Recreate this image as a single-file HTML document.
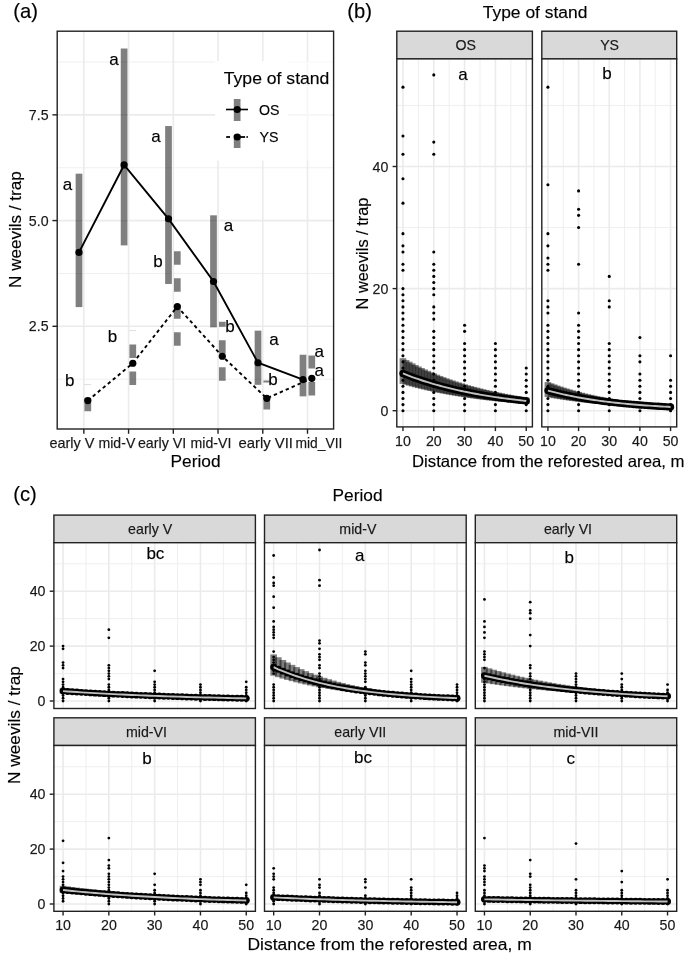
<!DOCTYPE html>
<html><head><meta charset="utf-8"><title>Figure</title>
<style>html,body{margin:0;padding:0;background:#fff}svg{display:block}text{font-family:'Liberation Sans', Arial, Helvetica, sans-serif;stroke:#000;stroke-width:0.25px;stroke-opacity:0.6}</style>
</head><body>
<svg width="685" height="963" viewBox="0 0 685 963">
<rect width="685" height="963" fill="#fff"/>
<rect x="57.2" y="31.2" width="276.40000000000003" height="397.8" fill="#fff"/>
<line x1="57.20" y1="379.16" x2="333.60" y2="379.16" stroke="#ebebeb" stroke-width="0.8"/>
<line x1="57.20" y1="273.44" x2="333.60" y2="273.44" stroke="#ebebeb" stroke-width="0.8"/>
<line x1="57.20" y1="167.71" x2="333.60" y2="167.71" stroke="#ebebeb" stroke-width="0.8"/>
<line x1="57.20" y1="61.99" x2="333.60" y2="61.99" stroke="#ebebeb" stroke-width="0.8"/>
<line x1="57.20" y1="326.30" x2="333.60" y2="326.30" stroke="#ebebeb" stroke-width="1.6"/>
<line x1="57.20" y1="220.58" x2="333.60" y2="220.58" stroke="#ebebeb" stroke-width="1.6"/>
<line x1="57.20" y1="114.85" x2="333.60" y2="114.85" stroke="#ebebeb" stroke-width="1.6"/>
<line x1="83.85" y1="31.20" x2="83.85" y2="429.00" stroke="#ebebeb" stroke-width="1.6"/>
<line x1="128.58" y1="31.20" x2="128.58" y2="429.00" stroke="#ebebeb" stroke-width="1.6"/>
<line x1="173.31" y1="31.20" x2="173.31" y2="429.00" stroke="#ebebeb" stroke-width="1.6"/>
<line x1="218.04" y1="31.20" x2="218.04" y2="429.00" stroke="#ebebeb" stroke-width="1.6"/>
<line x1="262.77" y1="31.20" x2="262.77" y2="429.00" stroke="#ebebeb" stroke-width="1.6"/>
<line x1="307.50" y1="31.20" x2="307.50" y2="429.00" stroke="#ebebeb" stroke-width="1.6"/>
<rect x="215" y="61" width="73" height="99.5" fill="#fff"/>
<rect x="288" y="61" width="44" height="99.5" fill="#fff" fill-opacity="0.55"/>
<rect x="75.65" y="173.6905" width="6.7" height="133.399" fill="#000" fill-opacity="0.5"/>
<rect x="120.75" y="48.5161" width="6.7" height="196.8889" fill="#000" fill-opacity="0.5"/>
<rect x="165.15" y="126.048" width="6.7" height="157.97250000000003" fill="#000" fill-opacity="0.5"/>
<rect x="210.15" y="215.315" width="6.7" height="112.0351" fill="#000" fill-opacity="0.5"/>
<rect x="254.65" y="330.66" width="6.7" height="54.16199999999998" fill="#000" fill-opacity="0.5"/>
<rect x="299.65" y="354.732" width="6.7" height="41.624499999999955" fill="#000" fill-opacity="0.5"/>
<line x1="87.8" y1="411.15075" x2="87.8" y2="384.11990000000003" stroke="#000" stroke-opacity="0.5" stroke-width="6.7" stroke-dasharray="13.5 13.5"/>
<line x1="132.8" y1="385.07275" x2="132.8" y2="330.66" stroke="#000" stroke-opacity="0.5" stroke-width="6.7" stroke-dasharray="13.5 13.5"/>
<line x1="177.3" y1="345.705" x2="177.3" y2="250.42" stroke="#000" stroke-opacity="0.5" stroke-width="6.7" stroke-dasharray="13.5 13.5"/>
<line x1="222.3" y1="380.81" x2="222.3" y2="321.633" stroke="#000" stroke-opacity="0.5" stroke-width="6.7" stroke-dasharray="13.5 13.5"/>
<line x1="266.8" y1="409.3955" x2="266.8" y2="380.55925" stroke="#000" stroke-opacity="0.5" stroke-width="6.7" stroke-dasharray="13.5 13.5"/>
<line x1="311.8" y1="395.60425" x2="311.8" y2="355.48425" stroke="#000" stroke-opacity="0.5" stroke-width="6.7" stroke-dasharray="13.5 13.5"/>
<polyline fill="none" stroke="#000" stroke-width="1.9" points="79,252.426 124.1,164.9644 168.5,218.8255 213.5,281.513 258,362.756 303,379.6064"/>
<polyline fill="none" stroke="#000" stroke-width="1.9" stroke-dasharray="3.4 3.1" points="87.8,400.5691 132.8,363.2575 177.3,306.588 222.3,356.2365 266.8,398.3625 311.8,378.3025"/>
<circle cx="79" cy="252.426" r="3.6" fill="#000"/>
<circle cx="124.1" cy="164.9644" r="3.6" fill="#000"/>
<circle cx="168.5" cy="218.8255" r="3.6" fill="#000"/>
<circle cx="213.5" cy="281.513" r="3.6" fill="#000"/>
<circle cx="258" cy="362.756" r="3.6" fill="#000"/>
<circle cx="303" cy="379.6064" r="3.6" fill="#000"/>
<circle cx="87.8" cy="400.5691" r="3.6" fill="#000"/>
<circle cx="132.8" cy="363.2575" r="3.6" fill="#000"/>
<circle cx="177.3" cy="306.588" r="3.6" fill="#000"/>
<circle cx="222.3" cy="356.2365" r="3.6" fill="#000"/>
<circle cx="266.8" cy="398.3625" r="3.6" fill="#000"/>
<circle cx="311.8" cy="378.3025" r="3.6" fill="#000"/>
<text x="113.9" y="64.5" font-size="17" text-anchor="middle" fill="#000">a</text>
<text x="156.0" y="142.4" font-size="17" text-anchor="middle" fill="#000">a</text>
<text x="67.5" y="189.8" font-size="17" text-anchor="middle" fill="#000">a</text>
<text x="228.5" y="231.4" font-size="17" text-anchor="middle" fill="#000">a</text>
<text x="158.0" y="266.8" font-size="17" text-anchor="middle" fill="#000">b</text>
<text x="230.0" y="331.9" font-size="17" text-anchor="middle" fill="#000">b</text>
<text x="112.5" y="342.2" font-size="17" text-anchor="middle" fill="#000">b</text>
<text x="274.0" y="345.3" font-size="17" text-anchor="middle" fill="#000">a</text>
<text x="69.8" y="385.9" font-size="17" text-anchor="middle" fill="#000">b</text>
<text x="273.0" y="385.4" font-size="17" text-anchor="middle" fill="#000">b</text>
<text x="319.2" y="356.8" font-size="17" text-anchor="middle" fill="#000">a</text>
<text x="319.2" y="376.4" font-size="17" text-anchor="middle" fill="#000">a</text>
<rect x="57.2" y="31.2" width="276.40000000000003" height="397.8" fill="none" stroke="#222222" stroke-width="1.4"/>
<line x1="83.85" y1="429.00" x2="83.85" y2="433.80" stroke="#222222" stroke-width="1.4"/>
<line x1="128.58" y1="429.00" x2="128.58" y2="433.80" stroke="#222222" stroke-width="1.4"/>
<line x1="173.31" y1="429.00" x2="173.31" y2="433.80" stroke="#222222" stroke-width="1.4"/>
<line x1="218.04" y1="429.00" x2="218.04" y2="433.80" stroke="#222222" stroke-width="1.4"/>
<line x1="262.77" y1="429.00" x2="262.77" y2="433.80" stroke="#222222" stroke-width="1.4"/>
<line x1="307.50" y1="429.00" x2="307.50" y2="433.80" stroke="#222222" stroke-width="1.4"/>
<line x1="52.40" y1="326.30" x2="57.20" y2="326.30" stroke="#222222" stroke-width="1.4"/>
<text x="48.6" y="331.3" font-size="14.2" text-anchor="end" fill="#1a1a1a">2.5</text>
<line x1="52.40" y1="220.58" x2="57.20" y2="220.58" stroke="#222222" stroke-width="1.4"/>
<text x="48.6" y="225.6" font-size="14.2" text-anchor="end" fill="#1a1a1a">5.0</text>
<line x1="52.40" y1="114.85" x2="57.20" y2="114.85" stroke="#222222" stroke-width="1.4"/>
<text x="48.6" y="119.9" font-size="14.2" text-anchor="end" fill="#1a1a1a">7.5</text>
<text x="49.4" y="448.0" font-size="14.2" text-anchor="start" fill="#1a1a1a" textLength="45.0" lengthAdjust="spacingAndGlyphs">early V</text>
<text x="98.5" y="448.0" font-size="14.2" text-anchor="start" fill="#1a1a1a" textLength="36.8" lengthAdjust="spacingAndGlyphs">mid-V</text>
<text x="137.9" y="448.0" font-size="14.2" text-anchor="start" fill="#1a1a1a" textLength="48.3" lengthAdjust="spacingAndGlyphs">early VI</text>
<text x="190.6" y="448.0" font-size="14.2" text-anchor="start" fill="#1a1a1a" textLength="40.8" lengthAdjust="spacingAndGlyphs">mid-VI</text>
<text x="238.4" y="448.0" font-size="14.2" text-anchor="start" fill="#1a1a1a" textLength="54.6" lengthAdjust="spacingAndGlyphs">early VII</text>
<text x="295.5" y="448.0" font-size="14.2" text-anchor="start" fill="#1a1a1a" textLength="46.9" lengthAdjust="spacingAndGlyphs">mid_VII</text>
<text x="170.6" y="466.8" font-size="17.3" text-anchor="start" fill="#000">Period</text>
<text x="21.2" y="229.6" font-size="17.2" text-anchor="middle" fill="#000" textLength="116.6" lengthAdjust="spacingAndGlyphs" transform="rotate(-90 21.2 229.6)">N weevils / trap</text>
<text x="13.3" y="17.7" font-size="20.2" text-anchor="start" fill="#000">(a)</text>
<text x="223.8" y="84.4" font-size="17.4" text-anchor="start" fill="#000" textLength="105.6" lengthAdjust="spacingAndGlyphs">Type of stand</text>
<rect x="233.8" y="99" width="6.7" height="22" fill="#000" fill-opacity="0.5"/>
<line x1="226.00" y1="109.50" x2="248.00" y2="109.50" stroke="#000" stroke-width="1.6"/>
<circle cx="237.2" cy="109.5" r="3.6" fill="#000"/>
<rect x="233.8" y="134.5" width="6.7" height="13.5" fill="#000" fill-opacity="0.5"/>
<line x1="226.20" y1="137.00" x2="230.00" y2="137.00" stroke="#000" stroke-width="1.8"/>
<line x1="240.00" y1="137.00" x2="245.10" y2="137.00" stroke="#000" stroke-width="1.8"/>
<line x1="246.50" y1="137.00" x2="247.80" y2="137.00" stroke="#000" stroke-width="1.8"/>
<circle cx="237.2" cy="137" r="3.6" fill="#000"/>
<text x="259.0" y="114.6" font-size="14.2" text-anchor="start" fill="#000">OS</text>
<text x="259.5" y="142.1" font-size="14.2" text-anchor="start" fill="#000">YS</text>
<rect x="396.8" y="31.2" width="135.59999999999997" height="27.7" fill="#d9d9d9" stroke="#222222" stroke-width="1.4"/>
<text x="465.7" y="50.2" font-size="14.2" text-anchor="middle" fill="#1a1a1a">OS</text>
<rect x="396.8" y="58.9" width="135.59999999999997" height="368.0" fill="#fff"/>
<line x1="396.80" y1="349.65" x2="532.40" y2="349.65" stroke="#ebebeb" stroke-width="0.8"/>
<line x1="396.80" y1="227.55" x2="532.40" y2="227.55" stroke="#ebebeb" stroke-width="0.8"/>
<line x1="396.80" y1="105.45" x2="532.40" y2="105.45" stroke="#ebebeb" stroke-width="0.8"/>
<line x1="418.37" y1="58.90" x2="418.37" y2="426.90" stroke="#ebebeb" stroke-width="0.8"/>
<line x1="449.19" y1="58.90" x2="449.19" y2="426.90" stroke="#ebebeb" stroke-width="0.8"/>
<line x1="480.01" y1="58.90" x2="480.01" y2="426.90" stroke="#ebebeb" stroke-width="0.8"/>
<line x1="510.83" y1="58.90" x2="510.83" y2="426.90" stroke="#ebebeb" stroke-width="0.8"/>
<line x1="396.80" y1="410.70" x2="532.40" y2="410.70" stroke="#ebebeb" stroke-width="1.6"/>
<line x1="396.80" y1="288.60" x2="532.40" y2="288.60" stroke="#ebebeb" stroke-width="1.6"/>
<line x1="396.80" y1="166.50" x2="532.40" y2="166.50" stroke="#ebebeb" stroke-width="1.6"/>
<line x1="402.96" y1="58.90" x2="402.96" y2="426.90" stroke="#ebebeb" stroke-width="1.6"/>
<line x1="433.78" y1="58.90" x2="433.78" y2="426.90" stroke="#ebebeb" stroke-width="1.6"/>
<line x1="464.60" y1="58.90" x2="464.60" y2="426.90" stroke="#ebebeb" stroke-width="1.6"/>
<line x1="495.42" y1="58.90" x2="495.42" y2="426.90" stroke="#ebebeb" stroke-width="1.6"/>
<line x1="526.24" y1="58.90" x2="526.24" y2="426.90" stroke="#ebebeb" stroke-width="1.6"/>
<circle cx="402.96" cy="87.13" r="1.55"/>
<circle cx="402.96" cy="135.97" r="1.55"/>
<circle cx="402.96" cy="154.29" r="1.55"/>
<circle cx="402.96" cy="178.71" r="1.55"/>
<circle cx="402.96" cy="203.13" r="1.55"/>
<circle cx="402.96" cy="233.65" r="1.55"/>
<circle cx="402.96" cy="245.86" r="1.55"/>
<circle cx="402.96" cy="251.97" r="1.55"/>
<circle cx="402.96" cy="264.18" r="1.55"/>
<circle cx="402.96" cy="270.28" r="1.55"/>
<circle cx="402.96" cy="410.70" r="1.55"/>
<circle cx="402.96" cy="404.59" r="1.55"/>
<circle cx="402.96" cy="398.49" r="1.55"/>
<circle cx="402.96" cy="392.38" r="1.55"/>
<circle cx="402.96" cy="386.28" r="1.55"/>
<circle cx="402.96" cy="380.18" r="1.55"/>
<circle cx="402.96" cy="374.07" r="1.55"/>
<circle cx="402.96" cy="367.96" r="1.55"/>
<circle cx="402.96" cy="361.86" r="1.55"/>
<circle cx="402.96" cy="355.75" r="1.55"/>
<circle cx="402.96" cy="349.65" r="1.55"/>
<circle cx="402.96" cy="343.54" r="1.55"/>
<circle cx="402.96" cy="337.44" r="1.55"/>
<circle cx="402.96" cy="331.33" r="1.55"/>
<circle cx="402.96" cy="325.23" r="1.55"/>
<circle cx="402.96" cy="319.12" r="1.55"/>
<circle cx="402.96" cy="313.02" r="1.55"/>
<circle cx="402.96" cy="306.91" r="1.55"/>
<circle cx="402.96" cy="300.81" r="1.55"/>
<circle cx="402.96" cy="294.70" r="1.55"/>
<circle cx="402.96" cy="288.60" r="1.55"/>
<circle cx="433.78" cy="74.92" r="1.55"/>
<circle cx="433.78" cy="142.08" r="1.55"/>
<circle cx="433.78" cy="154.29" r="1.55"/>
<circle cx="433.78" cy="251.97" r="1.55"/>
<circle cx="433.78" cy="264.18" r="1.55"/>
<circle cx="433.78" cy="270.28" r="1.55"/>
<circle cx="433.78" cy="276.39" r="1.55"/>
<circle cx="433.78" cy="282.50" r="1.55"/>
<circle cx="433.78" cy="288.60" r="1.55"/>
<circle cx="433.78" cy="294.70" r="1.55"/>
<circle cx="433.78" cy="306.91" r="1.55"/>
<circle cx="433.78" cy="313.02" r="1.55"/>
<circle cx="433.78" cy="319.12" r="1.55"/>
<circle cx="433.78" cy="331.33" r="1.55"/>
<circle cx="433.78" cy="337.44" r="1.55"/>
<circle cx="433.78" cy="343.54" r="1.55"/>
<circle cx="433.78" cy="349.65" r="1.55"/>
<circle cx="433.78" cy="355.75" r="1.55"/>
<circle cx="433.78" cy="410.70" r="1.55"/>
<circle cx="433.78" cy="404.59" r="1.55"/>
<circle cx="433.78" cy="398.49" r="1.55"/>
<circle cx="433.78" cy="392.38" r="1.55"/>
<circle cx="433.78" cy="386.28" r="1.55"/>
<circle cx="433.78" cy="380.18" r="1.55"/>
<circle cx="433.78" cy="374.07" r="1.55"/>
<circle cx="433.78" cy="367.96" r="1.55"/>
<circle cx="433.78" cy="361.86" r="1.55"/>
<circle cx="464.60" cy="325.23" r="1.55"/>
<circle cx="464.60" cy="331.33" r="1.55"/>
<circle cx="464.60" cy="343.54" r="1.55"/>
<circle cx="464.60" cy="349.65" r="1.55"/>
<circle cx="464.60" cy="355.75" r="1.55"/>
<circle cx="464.60" cy="410.70" r="1.55"/>
<circle cx="464.60" cy="404.59" r="1.55"/>
<circle cx="464.60" cy="398.49" r="1.55"/>
<circle cx="464.60" cy="392.38" r="1.55"/>
<circle cx="464.60" cy="386.28" r="1.55"/>
<circle cx="464.60" cy="380.18" r="1.55"/>
<circle cx="464.60" cy="374.07" r="1.55"/>
<circle cx="464.60" cy="367.96" r="1.55"/>
<circle cx="464.60" cy="361.86" r="1.55"/>
<circle cx="495.42" cy="343.54" r="1.55"/>
<circle cx="495.42" cy="349.65" r="1.55"/>
<circle cx="495.42" cy="355.75" r="1.55"/>
<circle cx="495.42" cy="410.70" r="1.55"/>
<circle cx="495.42" cy="404.59" r="1.55"/>
<circle cx="495.42" cy="398.49" r="1.55"/>
<circle cx="495.42" cy="392.38" r="1.55"/>
<circle cx="495.42" cy="386.28" r="1.55"/>
<circle cx="495.42" cy="380.18" r="1.55"/>
<circle cx="495.42" cy="374.07" r="1.55"/>
<circle cx="495.42" cy="367.96" r="1.55"/>
<circle cx="495.42" cy="361.86" r="1.55"/>
<circle cx="526.24" cy="410.70" r="1.55"/>
<circle cx="526.24" cy="404.59" r="1.55"/>
<circle cx="526.24" cy="398.49" r="1.55"/>
<circle cx="526.24" cy="392.38" r="1.55"/>
<circle cx="526.24" cy="386.28" r="1.55"/>
<circle cx="526.24" cy="380.18" r="1.55"/>
<circle cx="526.24" cy="374.07" r="1.55"/>
<circle cx="526.24" cy="367.96" r="1.55"/>
<rect x="399.61" y="358.19" width="6.7" height="25.70" fill="#000" fill-opacity="0.5"/>
<rect x="402.70" y="359.97" width="6.7" height="24.82" fill="#000" fill-opacity="0.5"/>
<rect x="405.78" y="361.68" width="6.7" height="23.98" fill="#000" fill-opacity="0.5"/>
<rect x="408.86" y="363.34" width="6.7" height="23.16" fill="#000" fill-opacity="0.5"/>
<rect x="411.94" y="364.94" width="6.7" height="22.38" fill="#000" fill-opacity="0.5"/>
<rect x="415.02" y="366.49" width="6.7" height="21.61" fill="#000" fill-opacity="0.5"/>
<rect x="418.10" y="367.98" width="6.7" height="20.88" fill="#000" fill-opacity="0.5"/>
<rect x="421.19" y="369.42" width="6.7" height="20.17" fill="#000" fill-opacity="0.5"/>
<rect x="424.27" y="370.82" width="6.7" height="19.48" fill="#000" fill-opacity="0.5"/>
<rect x="427.35" y="372.17" width="6.7" height="18.82" fill="#000" fill-opacity="0.5"/>
<rect x="430.43" y="373.47" width="6.7" height="18.18" fill="#000" fill-opacity="0.5"/>
<rect x="433.51" y="374.73" width="6.7" height="17.56" fill="#000" fill-opacity="0.5"/>
<rect x="436.60" y="375.95" width="6.7" height="16.97" fill="#000" fill-opacity="0.5"/>
<rect x="439.68" y="377.12" width="6.7" height="16.39" fill="#000" fill-opacity="0.5"/>
<rect x="442.76" y="378.26" width="6.7" height="15.83" fill="#000" fill-opacity="0.5"/>
<rect x="445.84" y="379.35" width="6.7" height="15.29" fill="#000" fill-opacity="0.5"/>
<rect x="448.92" y="380.41" width="6.7" height="14.77" fill="#000" fill-opacity="0.5"/>
<rect x="452.00" y="381.44" width="6.7" height="14.27" fill="#000" fill-opacity="0.5"/>
<rect x="455.09" y="382.43" width="6.7" height="13.78" fill="#000" fill-opacity="0.5"/>
<rect x="458.17" y="383.38" width="6.7" height="13.32" fill="#000" fill-opacity="0.5"/>
<rect x="461.25" y="384.31" width="6.7" height="12.86" fill="#000" fill-opacity="0.5"/>
<rect x="464.33" y="385.20" width="6.7" height="12.43" fill="#000" fill-opacity="0.5"/>
<rect x="467.41" y="386.06" width="6.7" height="12.00" fill="#000" fill-opacity="0.5"/>
<rect x="470.50" y="386.90" width="6.7" height="11.59" fill="#000" fill-opacity="0.5"/>
<rect x="473.58" y="387.70" width="6.7" height="11.20" fill="#000" fill-opacity="0.5"/>
<rect x="476.66" y="388.48" width="6.7" height="10.82" fill="#000" fill-opacity="0.5"/>
<rect x="479.74" y="389.23" width="6.7" height="10.45" fill="#000" fill-opacity="0.5"/>
<rect x="482.82" y="389.96" width="6.7" height="10.10" fill="#000" fill-opacity="0.5"/>
<rect x="485.90" y="390.66" width="6.7" height="9.75" fill="#000" fill-opacity="0.5"/>
<rect x="488.99" y="391.34" width="6.7" height="9.42" fill="#000" fill-opacity="0.5"/>
<rect x="492.07" y="391.99" width="6.7" height="9.10" fill="#000" fill-opacity="0.5"/>
<rect x="495.15" y="392.62" width="6.7" height="8.79" fill="#000" fill-opacity="0.5"/>
<rect x="498.23" y="393.23" width="6.7" height="8.49" fill="#000" fill-opacity="0.5"/>
<rect x="501.31" y="393.83" width="6.7" height="8.20" fill="#000" fill-opacity="0.5"/>
<rect x="504.40" y="394.40" width="6.7" height="7.92" fill="#000" fill-opacity="0.5"/>
<rect x="507.48" y="394.95" width="6.7" height="7.65" fill="#000" fill-opacity="0.5"/>
<rect x="510.56" y="395.48" width="6.7" height="7.39" fill="#000" fill-opacity="0.5"/>
<rect x="513.64" y="396.00" width="6.7" height="7.14" fill="#000" fill-opacity="0.5"/>
<rect x="516.72" y="396.49" width="6.7" height="6.90" fill="#000" fill-opacity="0.5"/>
<rect x="519.80" y="396.97" width="6.7" height="6.66" fill="#000" fill-opacity="0.5"/>
<rect x="522.89" y="397.44" width="6.7" height="6.44" fill="#000" fill-opacity="0.5"/>
<circle cx="402.96" cy="373.46" r="3.65"/>
<circle cx="406.05" cy="374.69" r="3.65"/>
<circle cx="409.13" cy="375.87" r="3.65"/>
<circle cx="412.21" cy="377.02" r="3.65"/>
<circle cx="415.29" cy="378.13" r="3.65"/>
<circle cx="418.37" cy="379.20" r="3.65"/>
<circle cx="421.45" cy="380.24" r="3.65"/>
<circle cx="424.54" cy="381.24" r="3.65"/>
<circle cx="427.62" cy="382.21" r="3.65"/>
<circle cx="430.70" cy="383.15" r="3.65"/>
<circle cx="433.78" cy="384.06" r="3.65"/>
<circle cx="436.86" cy="384.94" r="3.65"/>
<circle cx="439.95" cy="385.79" r="3.65"/>
<circle cx="443.03" cy="386.61" r="3.65"/>
<circle cx="446.11" cy="387.40" r="3.65"/>
<circle cx="449.19" cy="388.17" r="3.65"/>
<circle cx="452.27" cy="388.91" r="3.65"/>
<circle cx="455.35" cy="389.63" r="3.65"/>
<circle cx="458.44" cy="390.32" r="3.65"/>
<circle cx="461.52" cy="390.99" r="3.65"/>
<circle cx="464.60" cy="391.64" r="3.65"/>
<circle cx="467.68" cy="392.27" r="3.65"/>
<circle cx="470.76" cy="392.88" r="3.65"/>
<circle cx="473.85" cy="393.47" r="3.65"/>
<circle cx="476.93" cy="394.03" r="3.65"/>
<circle cx="480.01" cy="394.58" r="3.65"/>
<circle cx="483.09" cy="395.11" r="3.65"/>
<circle cx="486.17" cy="395.63" r="3.65"/>
<circle cx="489.25" cy="396.12" r="3.65"/>
<circle cx="492.34" cy="396.60" r="3.65"/>
<circle cx="495.42" cy="397.07" r="3.65"/>
<circle cx="498.50" cy="397.52" r="3.65"/>
<circle cx="501.58" cy="397.95" r="3.65"/>
<circle cx="504.66" cy="398.37" r="3.65"/>
<circle cx="507.75" cy="398.78" r="3.65"/>
<circle cx="510.83" cy="399.17" r="3.65"/>
<circle cx="513.91" cy="399.55" r="3.65"/>
<circle cx="516.99" cy="399.92" r="3.65"/>
<circle cx="520.07" cy="400.27" r="3.65"/>
<circle cx="523.15" cy="400.62" r="3.65"/>
<circle cx="526.24" cy="400.95" r="3.65"/>
<polyline fill="none" stroke="#c0c0c0" stroke-width="1.9" points="402.96,373.46 406.05,374.69 409.13,375.87 412.21,377.02 415.29,378.13 418.37,379.20 421.45,380.24 424.54,381.24 427.62,382.21 430.70,383.15 433.78,384.06 436.86,384.94 439.95,385.79 443.03,386.61 446.11,387.40 449.19,388.17 452.27,388.91 455.35,389.63 458.44,390.32 461.52,390.99 464.60,391.64 467.68,392.27 470.76,392.88 473.85,393.47 476.93,394.03 480.01,394.58 483.09,395.11 486.17,395.63 489.25,396.12 492.34,396.60 495.42,397.07 498.50,397.52 501.58,397.95 504.66,398.37 507.75,398.78 510.83,399.17 513.91,399.55 516.99,399.92 520.07,400.27 523.15,400.62 526.24,400.95"/>
<text x="462.9" y="79.7" font-size="17" text-anchor="middle" fill="#000">a</text>
<rect x="396.8" y="58.9" width="135.59999999999997" height="368.0" fill="none" stroke="#222222" stroke-width="1.4"/>
<line x1="402.96" y1="426.90" x2="402.96" y2="431.10" stroke="#222222" stroke-width="1.4"/>
<text x="403.0" y="445.5" font-size="14.2" text-anchor="middle" fill="#1a1a1a">10</text>
<line x1="433.78" y1="426.90" x2="433.78" y2="431.10" stroke="#222222" stroke-width="1.4"/>
<text x="433.8" y="445.5" font-size="14.2" text-anchor="middle" fill="#1a1a1a">20</text>
<line x1="464.60" y1="426.90" x2="464.60" y2="431.10" stroke="#222222" stroke-width="1.4"/>
<text x="464.6" y="445.5" font-size="14.2" text-anchor="middle" fill="#1a1a1a">30</text>
<line x1="495.42" y1="426.90" x2="495.42" y2="431.10" stroke="#222222" stroke-width="1.4"/>
<text x="495.4" y="445.5" font-size="14.2" text-anchor="middle" fill="#1a1a1a">40</text>
<line x1="526.24" y1="426.90" x2="526.24" y2="431.10" stroke="#222222" stroke-width="1.4"/>
<text x="526.2" y="445.5" font-size="14.2" text-anchor="middle" fill="#1a1a1a">50</text>
<line x1="392.60" y1="410.70" x2="396.80" y2="410.70" stroke="#222222" stroke-width="1.4"/>
<text x="388.4" y="415.7" font-size="14.2" text-anchor="end" fill="#1a1a1a">0</text>
<line x1="392.60" y1="288.60" x2="396.80" y2="288.60" stroke="#222222" stroke-width="1.4"/>
<text x="388.4" y="293.6" font-size="14.2" text-anchor="end" fill="#1a1a1a">20</text>
<line x1="392.60" y1="166.50" x2="396.80" y2="166.50" stroke="#222222" stroke-width="1.4"/>
<text x="388.4" y="171.5" font-size="14.2" text-anchor="end" fill="#1a1a1a">40</text>
<rect x="541.8" y="31.2" width="134.9000000000001" height="27.7" fill="#d9d9d9" stroke="#222222" stroke-width="1.4"/>
<text x="609.6" y="50.2" font-size="14.2" text-anchor="middle" fill="#1a1a1a">YS</text>
<rect x="541.8" y="58.9" width="134.9000000000001" height="368.0" fill="#fff"/>
<line x1="541.80" y1="349.65" x2="676.70" y2="349.65" stroke="#ebebeb" stroke-width="0.8"/>
<line x1="541.80" y1="227.55" x2="676.70" y2="227.55" stroke="#ebebeb" stroke-width="0.8"/>
<line x1="541.80" y1="105.45" x2="676.70" y2="105.45" stroke="#ebebeb" stroke-width="0.8"/>
<line x1="563.26" y1="58.90" x2="563.26" y2="426.90" stroke="#ebebeb" stroke-width="0.8"/>
<line x1="593.92" y1="58.90" x2="593.92" y2="426.90" stroke="#ebebeb" stroke-width="0.8"/>
<line x1="624.58" y1="58.90" x2="624.58" y2="426.90" stroke="#ebebeb" stroke-width="0.8"/>
<line x1="655.24" y1="58.90" x2="655.24" y2="426.90" stroke="#ebebeb" stroke-width="0.8"/>
<line x1="541.80" y1="410.70" x2="676.70" y2="410.70" stroke="#ebebeb" stroke-width="1.6"/>
<line x1="541.80" y1="288.60" x2="676.70" y2="288.60" stroke="#ebebeb" stroke-width="1.6"/>
<line x1="541.80" y1="166.50" x2="676.70" y2="166.50" stroke="#ebebeb" stroke-width="1.6"/>
<line x1="547.93" y1="58.90" x2="547.93" y2="426.90" stroke="#ebebeb" stroke-width="1.6"/>
<line x1="578.59" y1="58.90" x2="578.59" y2="426.90" stroke="#ebebeb" stroke-width="1.6"/>
<line x1="609.25" y1="58.90" x2="609.25" y2="426.90" stroke="#ebebeb" stroke-width="1.6"/>
<line x1="639.91" y1="58.90" x2="639.91" y2="426.90" stroke="#ebebeb" stroke-width="1.6"/>
<line x1="670.57" y1="58.90" x2="670.57" y2="426.90" stroke="#ebebeb" stroke-width="1.6"/>
<circle cx="547.93" cy="87.13" r="1.55"/>
<circle cx="547.93" cy="184.81" r="1.55"/>
<circle cx="547.93" cy="233.65" r="1.55"/>
<circle cx="547.93" cy="245.86" r="1.55"/>
<circle cx="547.93" cy="258.07" r="1.55"/>
<circle cx="547.93" cy="264.18" r="1.55"/>
<circle cx="547.93" cy="270.28" r="1.55"/>
<circle cx="547.93" cy="300.81" r="1.55"/>
<circle cx="547.93" cy="306.91" r="1.55"/>
<circle cx="547.93" cy="313.02" r="1.55"/>
<circle cx="547.93" cy="325.23" r="1.55"/>
<circle cx="547.93" cy="331.33" r="1.55"/>
<circle cx="547.93" cy="337.44" r="1.55"/>
<circle cx="547.93" cy="343.54" r="1.55"/>
<circle cx="547.93" cy="349.65" r="1.55"/>
<circle cx="547.93" cy="355.75" r="1.55"/>
<circle cx="547.93" cy="410.70" r="1.55"/>
<circle cx="547.93" cy="404.59" r="1.55"/>
<circle cx="547.93" cy="398.49" r="1.55"/>
<circle cx="547.93" cy="392.38" r="1.55"/>
<circle cx="547.93" cy="386.28" r="1.55"/>
<circle cx="547.93" cy="380.18" r="1.55"/>
<circle cx="547.93" cy="374.07" r="1.55"/>
<circle cx="547.93" cy="367.96" r="1.55"/>
<circle cx="547.93" cy="361.86" r="1.55"/>
<circle cx="578.59" cy="190.92" r="1.55"/>
<circle cx="578.59" cy="209.23" r="1.55"/>
<circle cx="578.59" cy="215.34" r="1.55"/>
<circle cx="578.59" cy="227.55" r="1.55"/>
<circle cx="578.59" cy="264.18" r="1.55"/>
<circle cx="578.59" cy="313.02" r="1.55"/>
<circle cx="578.59" cy="325.23" r="1.55"/>
<circle cx="578.59" cy="331.33" r="1.55"/>
<circle cx="578.59" cy="337.44" r="1.55"/>
<circle cx="578.59" cy="343.54" r="1.55"/>
<circle cx="578.59" cy="349.65" r="1.55"/>
<circle cx="578.59" cy="355.75" r="1.55"/>
<circle cx="578.59" cy="410.70" r="1.55"/>
<circle cx="578.59" cy="404.59" r="1.55"/>
<circle cx="578.59" cy="398.49" r="1.55"/>
<circle cx="578.59" cy="392.38" r="1.55"/>
<circle cx="578.59" cy="386.28" r="1.55"/>
<circle cx="578.59" cy="380.18" r="1.55"/>
<circle cx="578.59" cy="374.07" r="1.55"/>
<circle cx="578.59" cy="367.96" r="1.55"/>
<circle cx="578.59" cy="361.86" r="1.55"/>
<circle cx="609.25" cy="276.39" r="1.55"/>
<circle cx="609.25" cy="300.81" r="1.55"/>
<circle cx="609.25" cy="306.91" r="1.55"/>
<circle cx="609.25" cy="343.54" r="1.55"/>
<circle cx="609.25" cy="349.65" r="1.55"/>
<circle cx="609.25" cy="355.75" r="1.55"/>
<circle cx="609.25" cy="410.70" r="1.55"/>
<circle cx="609.25" cy="404.59" r="1.55"/>
<circle cx="609.25" cy="398.49" r="1.55"/>
<circle cx="609.25" cy="392.38" r="1.55"/>
<circle cx="609.25" cy="386.28" r="1.55"/>
<circle cx="609.25" cy="380.18" r="1.55"/>
<circle cx="609.25" cy="374.07" r="1.55"/>
<circle cx="609.25" cy="367.96" r="1.55"/>
<circle cx="609.25" cy="361.86" r="1.55"/>
<circle cx="639.91" cy="337.44" r="1.55"/>
<circle cx="639.91" cy="355.75" r="1.55"/>
<circle cx="639.91" cy="361.86" r="1.55"/>
<circle cx="639.91" cy="374.07" r="1.55"/>
<circle cx="639.91" cy="380.18" r="1.55"/>
<circle cx="639.91" cy="386.28" r="1.55"/>
<circle cx="639.91" cy="392.38" r="1.55"/>
<circle cx="639.91" cy="398.49" r="1.55"/>
<circle cx="639.91" cy="404.59" r="1.55"/>
<circle cx="639.91" cy="410.70" r="1.55"/>
<circle cx="670.57" cy="355.75" r="1.55"/>
<circle cx="670.57" cy="380.18" r="1.55"/>
<circle cx="670.57" cy="386.28" r="1.55"/>
<circle cx="670.57" cy="392.38" r="1.55"/>
<circle cx="670.57" cy="398.49" r="1.55"/>
<circle cx="670.57" cy="404.59" r="1.55"/>
<circle cx="670.57" cy="410.70" r="1.55"/>
<rect x="544.58" y="382.09" width="6.7" height="14.91" fill="#000" fill-opacity="0.5"/>
<rect x="547.65" y="383.28" width="6.7" height="14.30" fill="#000" fill-opacity="0.5"/>
<rect x="550.71" y="384.42" width="6.7" height="13.71" fill="#000" fill-opacity="0.5"/>
<rect x="553.78" y="385.51" width="6.7" height="13.14" fill="#000" fill-opacity="0.5"/>
<rect x="556.85" y="386.55" width="6.7" height="12.60" fill="#000" fill-opacity="0.5"/>
<rect x="559.91" y="387.55" width="6.7" height="12.08" fill="#000" fill-opacity="0.5"/>
<rect x="562.98" y="388.51" width="6.7" height="11.59" fill="#000" fill-opacity="0.5"/>
<rect x="566.04" y="389.43" width="6.7" height="11.11" fill="#000" fill-opacity="0.5"/>
<rect x="569.11" y="390.31" width="6.7" height="10.65" fill="#000" fill-opacity="0.5"/>
<rect x="572.17" y="391.16" width="6.7" height="10.22" fill="#000" fill-opacity="0.5"/>
<rect x="575.24" y="391.97" width="6.7" height="9.80" fill="#000" fill-opacity="0.5"/>
<rect x="578.31" y="392.75" width="6.7" height="9.39" fill="#000" fill-opacity="0.5"/>
<rect x="581.37" y="393.49" width="6.7" height="9.01" fill="#000" fill-opacity="0.5"/>
<rect x="584.44" y="394.20" width="6.7" height="8.64" fill="#000" fill-opacity="0.5"/>
<rect x="587.50" y="394.89" width="6.7" height="8.28" fill="#000" fill-opacity="0.5"/>
<rect x="590.57" y="395.54" width="6.7" height="7.94" fill="#000" fill-opacity="0.5"/>
<rect x="593.64" y="396.17" width="6.7" height="7.61" fill="#000" fill-opacity="0.5"/>
<rect x="596.70" y="396.78" width="6.7" height="7.30" fill="#000" fill-opacity="0.5"/>
<rect x="599.77" y="397.35" width="6.7" height="7.00" fill="#000" fill-opacity="0.5"/>
<rect x="602.83" y="397.91" width="6.7" height="6.71" fill="#000" fill-opacity="0.5"/>
<rect x="605.90" y="398.44" width="6.7" height="6.44" fill="#000" fill-opacity="0.5"/>
<rect x="608.97" y="398.95" width="6.7" height="6.17" fill="#000" fill-opacity="0.5"/>
<rect x="612.03" y="399.43" width="6.7" height="5.92" fill="#000" fill-opacity="0.5"/>
<rect x="615.10" y="399.90" width="6.7" height="5.67" fill="#000" fill-opacity="0.5"/>
<rect x="618.16" y="400.35" width="6.7" height="5.44" fill="#000" fill-opacity="0.5"/>
<rect x="621.23" y="400.78" width="6.7" height="5.22" fill="#000" fill-opacity="0.5"/>
<rect x="624.30" y="401.19" width="6.7" height="5.00" fill="#000" fill-opacity="0.5"/>
<rect x="627.36" y="401.58" width="6.7" height="4.80" fill="#000" fill-opacity="0.5"/>
<rect x="630.43" y="401.96" width="6.7" height="4.60" fill="#000" fill-opacity="0.5"/>
<rect x="633.49" y="402.32" width="6.7" height="4.41" fill="#000" fill-opacity="0.5"/>
<rect x="636.56" y="402.67" width="6.7" height="4.23" fill="#000" fill-opacity="0.5"/>
<rect x="639.62" y="403.00" width="6.7" height="4.05" fill="#000" fill-opacity="0.5"/>
<rect x="642.69" y="403.32" width="6.7" height="3.89" fill="#000" fill-opacity="0.5"/>
<rect x="645.76" y="403.63" width="6.7" height="3.73" fill="#000" fill-opacity="0.5"/>
<rect x="648.82" y="403.92" width="6.7" height="3.57" fill="#000" fill-opacity="0.5"/>
<rect x="651.89" y="404.20" width="6.7" height="3.43" fill="#000" fill-opacity="0.5"/>
<rect x="654.95" y="404.47" width="6.7" height="3.29" fill="#000" fill-opacity="0.5"/>
<rect x="658.02" y="404.73" width="6.7" height="3.15" fill="#000" fill-opacity="0.5"/>
<rect x="661.09" y="404.98" width="6.7" height="3.02" fill="#000" fill-opacity="0.5"/>
<rect x="664.15" y="405.22" width="6.7" height="2.90" fill="#000" fill-opacity="0.5"/>
<rect x="667.22" y="405.44" width="6.7" height="2.78" fill="#000" fill-opacity="0.5"/>
<circle cx="547.93" cy="390.55" r="3.65"/>
<circle cx="551.00" cy="391.38" r="3.65"/>
<circle cx="554.06" cy="392.18" r="3.65"/>
<circle cx="557.13" cy="392.94" r="3.65"/>
<circle cx="560.20" cy="393.67" r="3.65"/>
<circle cx="563.26" cy="394.37" r="3.65"/>
<circle cx="566.33" cy="395.04" r="3.65"/>
<circle cx="569.39" cy="395.69" r="3.65"/>
<circle cx="572.46" cy="396.30" r="3.65"/>
<circle cx="575.52" cy="396.90" r="3.65"/>
<circle cx="578.59" cy="397.46" r="3.65"/>
<circle cx="581.66" cy="398.01" r="3.65"/>
<circle cx="584.72" cy="398.53" r="3.65"/>
<circle cx="587.79" cy="399.03" r="3.65"/>
<circle cx="590.85" cy="399.51" r="3.65"/>
<circle cx="593.92" cy="399.97" r="3.65"/>
<circle cx="596.99" cy="400.41" r="3.65"/>
<circle cx="600.05" cy="400.83" r="3.65"/>
<circle cx="603.12" cy="401.24" r="3.65"/>
<circle cx="606.18" cy="401.63" r="3.65"/>
<circle cx="609.25" cy="402.00" r="3.65"/>
<circle cx="612.32" cy="402.36" r="3.65"/>
<circle cx="615.38" cy="402.70" r="3.65"/>
<circle cx="618.45" cy="403.03" r="3.65"/>
<circle cx="621.51" cy="403.35" r="3.65"/>
<circle cx="624.58" cy="403.65" r="3.65"/>
<circle cx="627.65" cy="403.94" r="3.65"/>
<circle cx="630.71" cy="404.22" r="3.65"/>
<circle cx="633.78" cy="404.48" r="3.65"/>
<circle cx="636.84" cy="404.74" r="3.65"/>
<circle cx="639.91" cy="404.99" r="3.65"/>
<circle cx="642.98" cy="405.22" r="3.65"/>
<circle cx="646.04" cy="405.45" r="3.65"/>
<circle cx="649.11" cy="405.66" r="3.65"/>
<circle cx="652.17" cy="405.87" r="3.65"/>
<circle cx="655.24" cy="406.07" r="3.65"/>
<circle cx="658.30" cy="406.26" r="3.65"/>
<circle cx="661.37" cy="406.44" r="3.65"/>
<circle cx="664.44" cy="406.62" r="3.65"/>
<circle cx="667.50" cy="406.78" r="3.65"/>
<circle cx="670.57" cy="406.95" r="3.65"/>
<polyline fill="none" stroke="#c0c0c0" stroke-width="1.9" points="547.93,390.55 551.00,391.38 554.06,392.18 557.13,392.94 560.20,393.67 563.26,394.37 566.33,395.04 569.39,395.69 572.46,396.30 575.52,396.90 578.59,397.46 581.66,398.01 584.72,398.53 587.79,399.03 590.85,399.51 593.92,399.97 596.99,400.41 600.05,400.83 603.12,401.24 606.18,401.63 609.25,402.00 612.32,402.36 615.38,402.70 618.45,403.03 621.51,403.35 624.58,403.65 627.65,403.94 630.71,404.22 633.78,404.48 636.84,404.74 639.91,404.99 642.98,405.22 646.04,405.45 649.11,405.66 652.17,405.87 655.24,406.07 658.30,406.26 661.37,406.44 664.44,406.62 667.50,406.78 670.57,406.95"/>
<text x="606.9" y="78.7" font-size="17" text-anchor="middle" fill="#000">b</text>
<rect x="541.8" y="58.9" width="134.9000000000001" height="368.0" fill="none" stroke="#222222" stroke-width="1.4"/>
<line x1="547.93" y1="426.90" x2="547.93" y2="431.10" stroke="#222222" stroke-width="1.4"/>
<text x="547.9" y="445.5" font-size="14.2" text-anchor="middle" fill="#1a1a1a">10</text>
<line x1="578.59" y1="426.90" x2="578.59" y2="431.10" stroke="#222222" stroke-width="1.4"/>
<text x="578.6" y="445.5" font-size="14.2" text-anchor="middle" fill="#1a1a1a">20</text>
<line x1="609.25" y1="426.90" x2="609.25" y2="431.10" stroke="#222222" stroke-width="1.4"/>
<text x="609.2" y="445.5" font-size="14.2" text-anchor="middle" fill="#1a1a1a">30</text>
<line x1="639.91" y1="426.90" x2="639.91" y2="431.10" stroke="#222222" stroke-width="1.4"/>
<text x="639.9" y="445.5" font-size="14.2" text-anchor="middle" fill="#1a1a1a">40</text>
<line x1="670.57" y1="426.90" x2="670.57" y2="431.10" stroke="#222222" stroke-width="1.4"/>
<text x="670.6" y="445.5" font-size="14.2" text-anchor="middle" fill="#1a1a1a">50</text>
<text x="482.8" y="18.1" font-size="17.4" text-anchor="start" fill="#000" textLength="104.6" lengthAdjust="spacingAndGlyphs">Type of stand</text>
<text x="412.0" y="467.0" font-size="16.5" text-anchor="start" fill="#000" textLength="272.5" lengthAdjust="spacingAndGlyphs">Distance from the reforested area, m</text>
<text x="367.6" y="253.5" font-size="16.5" text-anchor="middle" fill="#000" textLength="111.8" lengthAdjust="spacingAndGlyphs" transform="rotate(-90 367.6 253.5)">N weevils / trap</text>
<text x="347.3" y="17.7" font-size="20.2" text-anchor="start" fill="#000">(b)</text>
<rect x="53.9" y="515.1" width="201.5" height="27.600000000000023" fill="#d9d9d9" stroke="#222222" stroke-width="1.4"/>
<text x="150.2" y="534.1" font-size="14.2" text-anchor="middle" fill="#1a1a1a">early V</text>
<rect x="53.9" y="542.7" width="201.5" height="165.79999999999995" fill="#fff"/>
<line x1="53.90" y1="673.55" x2="255.40" y2="673.55" stroke="#ebebeb" stroke-width="0.8"/>
<line x1="53.90" y1="618.65" x2="255.40" y2="618.65" stroke="#ebebeb" stroke-width="0.8"/>
<line x1="53.90" y1="563.75" x2="255.40" y2="563.75" stroke="#ebebeb" stroke-width="0.8"/>
<line x1="85.96" y1="542.70" x2="85.96" y2="708.50" stroke="#ebebeb" stroke-width="0.8"/>
<line x1="131.75" y1="542.70" x2="131.75" y2="708.50" stroke="#ebebeb" stroke-width="0.8"/>
<line x1="177.55" y1="542.70" x2="177.55" y2="708.50" stroke="#ebebeb" stroke-width="0.8"/>
<line x1="223.34" y1="542.70" x2="223.34" y2="708.50" stroke="#ebebeb" stroke-width="0.8"/>
<line x1="53.90" y1="701.00" x2="255.40" y2="701.00" stroke="#ebebeb" stroke-width="1.6"/>
<line x1="53.90" y1="646.10" x2="255.40" y2="646.10" stroke="#ebebeb" stroke-width="1.6"/>
<line x1="53.90" y1="591.20" x2="255.40" y2="591.20" stroke="#ebebeb" stroke-width="1.6"/>
<line x1="63.06" y1="542.70" x2="63.06" y2="708.50" stroke="#ebebeb" stroke-width="1.6"/>
<line x1="108.85" y1="542.70" x2="108.85" y2="708.50" stroke="#ebebeb" stroke-width="1.6"/>
<line x1="154.65" y1="542.70" x2="154.65" y2="708.50" stroke="#ebebeb" stroke-width="1.6"/>
<line x1="200.45" y1="542.70" x2="200.45" y2="708.50" stroke="#ebebeb" stroke-width="1.6"/>
<line x1="246.24" y1="542.70" x2="246.24" y2="708.50" stroke="#ebebeb" stroke-width="1.6"/>
<circle cx="63.06" cy="646.10" r="1.4"/>
<circle cx="63.06" cy="648.85" r="1.4"/>
<circle cx="63.06" cy="662.57" r="1.4"/>
<circle cx="63.06" cy="665.32" r="1.4"/>
<circle cx="63.06" cy="668.06" r="1.4"/>
<circle cx="63.06" cy="701.00" r="1.4"/>
<circle cx="63.06" cy="698.25" r="1.4"/>
<circle cx="63.06" cy="695.51" r="1.4"/>
<circle cx="63.06" cy="692.76" r="1.4"/>
<circle cx="63.06" cy="690.02" r="1.4"/>
<circle cx="63.06" cy="687.27" r="1.4"/>
<circle cx="63.06" cy="684.53" r="1.4"/>
<circle cx="63.06" cy="681.78" r="1.4"/>
<circle cx="63.06" cy="679.04" r="1.4"/>
<circle cx="108.85" cy="629.63" r="1.4"/>
<circle cx="108.85" cy="637.87" r="1.4"/>
<circle cx="108.85" cy="679.04" r="1.4"/>
<circle cx="108.85" cy="676.29" r="1.4"/>
<circle cx="108.85" cy="673.55" r="1.4"/>
<circle cx="108.85" cy="670.80" r="1.4"/>
<circle cx="108.85" cy="668.06" r="1.4"/>
<circle cx="108.85" cy="665.32" r="1.4"/>
<circle cx="108.85" cy="701.00" r="1.4"/>
<circle cx="108.85" cy="698.25" r="1.4"/>
<circle cx="108.85" cy="695.51" r="1.4"/>
<circle cx="108.85" cy="692.76" r="1.4"/>
<circle cx="108.85" cy="690.02" r="1.4"/>
<circle cx="108.85" cy="687.27" r="1.4"/>
<circle cx="108.85" cy="684.53" r="1.4"/>
<circle cx="154.65" cy="670.80" r="1.4"/>
<circle cx="154.65" cy="701.00" r="1.4"/>
<circle cx="154.65" cy="698.25" r="1.4"/>
<circle cx="154.65" cy="695.51" r="1.4"/>
<circle cx="154.65" cy="692.76" r="1.4"/>
<circle cx="154.65" cy="690.02" r="1.4"/>
<circle cx="154.65" cy="687.27" r="1.4"/>
<circle cx="154.65" cy="684.53" r="1.4"/>
<circle cx="154.65" cy="681.78" r="1.4"/>
<circle cx="200.45" cy="701.00" r="1.4"/>
<circle cx="200.45" cy="698.25" r="1.4"/>
<circle cx="200.45" cy="695.51" r="1.4"/>
<circle cx="200.45" cy="692.76" r="1.4"/>
<circle cx="200.45" cy="690.02" r="1.4"/>
<circle cx="200.45" cy="687.27" r="1.4"/>
<circle cx="200.45" cy="684.53" r="1.4"/>
<circle cx="246.24" cy="681.78" r="1.4"/>
<circle cx="246.24" cy="701.00" r="1.4"/>
<circle cx="246.24" cy="698.25" r="1.4"/>
<circle cx="246.24" cy="695.51" r="1.4"/>
<circle cx="246.24" cy="692.76" r="1.4"/>
<circle cx="246.24" cy="690.02" r="1.4"/>
<circle cx="246.24" cy="687.27" r="1.4"/>
<rect x="59.71" y="688.15" width="6.7" height="5.44" fill="#000" fill-opacity="0.5"/>
<rect x="64.29" y="688.57" width="6.7" height="5.26" fill="#000" fill-opacity="0.5"/>
<rect x="68.87" y="688.97" width="6.7" height="5.09" fill="#000" fill-opacity="0.5"/>
<rect x="73.45" y="689.36" width="6.7" height="4.92" fill="#000" fill-opacity="0.5"/>
<rect x="78.03" y="689.74" width="6.7" height="4.76" fill="#000" fill-opacity="0.5"/>
<rect x="82.61" y="690.11" width="6.7" height="4.61" fill="#000" fill-opacity="0.5"/>
<rect x="87.19" y="690.46" width="6.7" height="4.46" fill="#000" fill-opacity="0.5"/>
<rect x="91.77" y="690.80" width="6.7" height="4.31" fill="#000" fill-opacity="0.5"/>
<rect x="96.35" y="691.13" width="6.7" height="4.17" fill="#000" fill-opacity="0.5"/>
<rect x="100.92" y="691.45" width="6.7" height="4.04" fill="#000" fill-opacity="0.5"/>
<rect x="105.50" y="691.76" width="6.7" height="3.91" fill="#000" fill-opacity="0.5"/>
<rect x="110.08" y="692.06" width="6.7" height="3.78" fill="#000" fill-opacity="0.5"/>
<rect x="114.66" y="692.35" width="6.7" height="3.66" fill="#000" fill-opacity="0.5"/>
<rect x="119.24" y="692.63" width="6.7" height="3.54" fill="#000" fill-opacity="0.5"/>
<rect x="123.82" y="692.91" width="6.7" height="3.42" fill="#000" fill-opacity="0.5"/>
<rect x="128.40" y="693.17" width="6.7" height="3.31" fill="#000" fill-opacity="0.5"/>
<rect x="132.98" y="693.42" width="6.7" height="3.21" fill="#000" fill-opacity="0.5"/>
<rect x="137.56" y="693.67" width="6.7" height="3.10" fill="#000" fill-opacity="0.5"/>
<rect x="142.14" y="693.91" width="6.7" height="3.00" fill="#000" fill-opacity="0.5"/>
<rect x="146.72" y="694.14" width="6.7" height="2.90" fill="#000" fill-opacity="0.5"/>
<rect x="151.30" y="694.36" width="6.7" height="2.81" fill="#000" fill-opacity="0.5"/>
<rect x="155.88" y="694.58" width="6.7" height="2.72" fill="#000" fill-opacity="0.5"/>
<rect x="160.46" y="694.78" width="6.7" height="2.63" fill="#000" fill-opacity="0.5"/>
<rect x="165.04" y="694.99" width="6.7" height="2.54" fill="#000" fill-opacity="0.5"/>
<rect x="169.62" y="695.18" width="6.7" height="2.46" fill="#000" fill-opacity="0.5"/>
<rect x="174.20" y="695.37" width="6.7" height="2.38" fill="#000" fill-opacity="0.5"/>
<rect x="178.78" y="695.55" width="6.7" height="2.30" fill="#000" fill-opacity="0.5"/>
<rect x="183.36" y="695.73" width="6.7" height="2.23" fill="#000" fill-opacity="0.5"/>
<rect x="187.94" y="695.90" width="6.7" height="2.16" fill="#000" fill-opacity="0.5"/>
<rect x="192.52" y="696.07" width="6.7" height="2.09" fill="#000" fill-opacity="0.5"/>
<rect x="197.10" y="696.23" width="6.7" height="2.02" fill="#000" fill-opacity="0.5"/>
<rect x="201.68" y="696.38" width="6.7" height="1.95" fill="#000" fill-opacity="0.5"/>
<rect x="206.25" y="696.53" width="6.7" height="1.89" fill="#000" fill-opacity="0.5"/>
<rect x="210.83" y="696.68" width="6.7" height="1.83" fill="#000" fill-opacity="0.5"/>
<rect x="215.41" y="696.82" width="6.7" height="1.77" fill="#000" fill-opacity="0.5"/>
<rect x="219.99" y="696.95" width="6.7" height="1.71" fill="#000" fill-opacity="0.5"/>
<rect x="224.57" y="697.08" width="6.7" height="1.66" fill="#000" fill-opacity="0.5"/>
<rect x="229.15" y="697.21" width="6.7" height="1.60" fill="#000" fill-opacity="0.5"/>
<rect x="233.73" y="697.33" width="6.7" height="1.55" fill="#000" fill-opacity="0.5"/>
<rect x="238.31" y="697.45" width="6.7" height="1.50" fill="#000" fill-opacity="0.5"/>
<rect x="242.89" y="697.57" width="6.7" height="1.45" fill="#000" fill-opacity="0.5"/>
<circle cx="63.06" cy="691.12" r="3.45"/>
<circle cx="67.64" cy="691.44" r="3.45"/>
<circle cx="72.22" cy="691.75" r="3.45"/>
<circle cx="76.80" cy="692.05" r="3.45"/>
<circle cx="81.38" cy="692.34" r="3.45"/>
<circle cx="85.96" cy="692.62" r="3.45"/>
<circle cx="90.54" cy="692.89" r="3.45"/>
<circle cx="95.12" cy="693.16" r="3.45"/>
<circle cx="99.70" cy="693.41" r="3.45"/>
<circle cx="104.27" cy="693.66" r="3.45"/>
<circle cx="108.85" cy="693.90" r="3.45"/>
<circle cx="113.43" cy="694.13" r="3.45"/>
<circle cx="118.01" cy="694.35" r="3.45"/>
<circle cx="122.59" cy="694.57" r="3.45"/>
<circle cx="127.17" cy="694.77" r="3.45"/>
<circle cx="131.75" cy="694.98" r="3.45"/>
<circle cx="136.33" cy="695.17" r="3.45"/>
<circle cx="140.91" cy="695.36" r="3.45"/>
<circle cx="145.49" cy="695.54" r="3.45"/>
<circle cx="150.07" cy="695.72" r="3.45"/>
<circle cx="154.65" cy="695.89" r="3.45"/>
<circle cx="159.23" cy="696.06" r="3.45"/>
<circle cx="163.81" cy="696.22" r="3.45"/>
<circle cx="168.39" cy="696.37" r="3.45"/>
<circle cx="172.97" cy="696.52" r="3.45"/>
<circle cx="177.55" cy="696.67" r="3.45"/>
<circle cx="182.13" cy="696.81" r="3.45"/>
<circle cx="186.71" cy="696.95" r="3.45"/>
<circle cx="191.29" cy="697.08" r="3.45"/>
<circle cx="195.87" cy="697.20" r="3.45"/>
<circle cx="200.45" cy="697.33" r="3.45"/>
<circle cx="205.03" cy="697.45" r="3.45"/>
<circle cx="209.60" cy="697.56" r="3.45"/>
<circle cx="214.18" cy="697.67" r="3.45"/>
<circle cx="218.76" cy="697.78" r="3.45"/>
<circle cx="223.34" cy="697.89" r="3.45"/>
<circle cx="227.92" cy="697.99" r="3.45"/>
<circle cx="232.50" cy="698.09" r="3.45"/>
<circle cx="237.08" cy="698.18" r="3.45"/>
<circle cx="241.66" cy="698.27" r="3.45"/>
<circle cx="246.24" cy="698.36" r="3.45"/>
<polyline fill="none" stroke="#c0c0c0" stroke-width="1.9" points="63.06,691.12 67.64,691.44 72.22,691.75 76.80,692.05 81.38,692.34 85.96,692.62 90.54,692.89 95.12,693.16 99.70,693.41 104.27,693.66 108.85,693.90 113.43,694.13 118.01,694.35 122.59,694.57 127.17,694.77 131.75,694.98 136.33,695.17 140.91,695.36 145.49,695.54 150.07,695.72 154.65,695.89 159.23,696.06 163.81,696.22 168.39,696.37 172.97,696.52 177.55,696.67 182.13,696.81 186.71,696.95 191.29,697.08 195.87,697.20 200.45,697.33 205.03,697.45 209.60,697.56 214.18,697.67 218.76,697.78 223.34,697.89 227.92,697.99 232.50,698.09 237.08,698.18 241.66,698.27 246.24,698.36"/>
<text x="155.4" y="559.1" font-size="17" text-anchor="middle" fill="#000">bc</text>
<rect x="53.9" y="542.7" width="201.5" height="165.79999999999995" fill="none" stroke="#222222" stroke-width="1.4"/>
<line x1="49.70" y1="701.00" x2="53.90" y2="701.00" stroke="#222222" stroke-width="1.4"/>
<text x="45.5" y="706.0" font-size="14.2" text-anchor="end" fill="#1a1a1a">0</text>
<line x1="49.70" y1="646.10" x2="53.90" y2="646.10" stroke="#222222" stroke-width="1.4"/>
<text x="45.5" y="651.1" font-size="14.2" text-anchor="end" fill="#1a1a1a">20</text>
<line x1="49.70" y1="591.20" x2="53.90" y2="591.20" stroke="#222222" stroke-width="1.4"/>
<text x="45.5" y="596.2" font-size="14.2" text-anchor="end" fill="#1a1a1a">40</text>
<rect x="264.5" y="515.1" width="201.7" height="27.600000000000023" fill="#d9d9d9" stroke="#222222" stroke-width="1.4"/>
<text x="357.9" y="534.1" font-size="14.2" text-anchor="middle" fill="#1a1a1a">mid-V</text>
<rect x="264.5" y="542.7" width="201.7" height="165.79999999999995" fill="#fff"/>
<line x1="264.50" y1="673.55" x2="466.20" y2="673.55" stroke="#ebebeb" stroke-width="0.8"/>
<line x1="264.50" y1="618.65" x2="466.20" y2="618.65" stroke="#ebebeb" stroke-width="0.8"/>
<line x1="264.50" y1="563.75" x2="466.20" y2="563.75" stroke="#ebebeb" stroke-width="0.8"/>
<line x1="296.59" y1="542.70" x2="296.59" y2="708.50" stroke="#ebebeb" stroke-width="0.8"/>
<line x1="342.43" y1="542.70" x2="342.43" y2="708.50" stroke="#ebebeb" stroke-width="0.8"/>
<line x1="388.27" y1="542.70" x2="388.27" y2="708.50" stroke="#ebebeb" stroke-width="0.8"/>
<line x1="434.11" y1="542.70" x2="434.11" y2="708.50" stroke="#ebebeb" stroke-width="0.8"/>
<line x1="264.50" y1="701.00" x2="466.20" y2="701.00" stroke="#ebebeb" stroke-width="1.6"/>
<line x1="264.50" y1="646.10" x2="466.20" y2="646.10" stroke="#ebebeb" stroke-width="1.6"/>
<line x1="264.50" y1="591.20" x2="466.20" y2="591.20" stroke="#ebebeb" stroke-width="1.6"/>
<line x1="273.67" y1="542.70" x2="273.67" y2="708.50" stroke="#ebebeb" stroke-width="1.6"/>
<line x1="319.51" y1="542.70" x2="319.51" y2="708.50" stroke="#ebebeb" stroke-width="1.6"/>
<line x1="365.35" y1="542.70" x2="365.35" y2="708.50" stroke="#ebebeb" stroke-width="1.6"/>
<line x1="411.19" y1="542.70" x2="411.19" y2="708.50" stroke="#ebebeb" stroke-width="1.6"/>
<line x1="457.03" y1="542.70" x2="457.03" y2="708.50" stroke="#ebebeb" stroke-width="1.6"/>
<circle cx="273.67" cy="555.51" r="1.4"/>
<circle cx="273.67" cy="577.48" r="1.4"/>
<circle cx="273.67" cy="582.97" r="1.4"/>
<circle cx="273.67" cy="585.71" r="1.4"/>
<circle cx="273.67" cy="596.69" r="1.4"/>
<circle cx="273.67" cy="607.67" r="1.4"/>
<circle cx="273.67" cy="621.39" r="1.4"/>
<circle cx="273.67" cy="626.88" r="1.4"/>
<circle cx="273.67" cy="629.63" r="1.4"/>
<circle cx="273.67" cy="632.38" r="1.4"/>
<circle cx="273.67" cy="635.12" r="1.4"/>
<circle cx="273.67" cy="637.87" r="1.4"/>
<circle cx="273.67" cy="651.59" r="1.4"/>
<circle cx="273.67" cy="657.08" r="1.4"/>
<circle cx="273.67" cy="659.83" r="1.4"/>
<circle cx="273.67" cy="662.57" r="1.4"/>
<circle cx="273.67" cy="665.32" r="1.4"/>
<circle cx="273.67" cy="668.06" r="1.4"/>
<circle cx="273.67" cy="670.80" r="1.4"/>
<circle cx="273.67" cy="673.55" r="1.4"/>
<circle cx="273.67" cy="701.00" r="1.4"/>
<circle cx="273.67" cy="698.25" r="1.4"/>
<circle cx="273.67" cy="695.51" r="1.4"/>
<circle cx="273.67" cy="692.76" r="1.4"/>
<circle cx="273.67" cy="690.02" r="1.4"/>
<circle cx="273.67" cy="687.27" r="1.4"/>
<circle cx="273.67" cy="684.53" r="1.4"/>
<circle cx="319.51" cy="550.02" r="1.4"/>
<circle cx="319.51" cy="580.22" r="1.4"/>
<circle cx="319.51" cy="585.71" r="1.4"/>
<circle cx="319.51" cy="640.61" r="1.4"/>
<circle cx="319.51" cy="643.36" r="1.4"/>
<circle cx="319.51" cy="648.85" r="1.4"/>
<circle cx="319.51" cy="654.34" r="1.4"/>
<circle cx="319.51" cy="657.08" r="1.4"/>
<circle cx="319.51" cy="659.83" r="1.4"/>
<circle cx="319.51" cy="665.32" r="1.4"/>
<circle cx="319.51" cy="668.06" r="1.4"/>
<circle cx="319.51" cy="673.55" r="1.4"/>
<circle cx="319.51" cy="701.00" r="1.4"/>
<circle cx="319.51" cy="698.25" r="1.4"/>
<circle cx="319.51" cy="695.51" r="1.4"/>
<circle cx="319.51" cy="692.76" r="1.4"/>
<circle cx="319.51" cy="690.02" r="1.4"/>
<circle cx="319.51" cy="687.27" r="1.4"/>
<circle cx="319.51" cy="684.53" r="1.4"/>
<circle cx="319.51" cy="681.78" r="1.4"/>
<circle cx="319.51" cy="679.04" r="1.4"/>
<circle cx="319.51" cy="676.29" r="1.4"/>
<circle cx="365.35" cy="651.59" r="1.4"/>
<circle cx="365.35" cy="654.34" r="1.4"/>
<circle cx="365.35" cy="662.57" r="1.4"/>
<circle cx="365.35" cy="665.32" r="1.4"/>
<circle cx="365.35" cy="670.80" r="1.4"/>
<circle cx="365.35" cy="673.55" r="1.4"/>
<circle cx="365.35" cy="676.29" r="1.4"/>
<circle cx="365.35" cy="679.04" r="1.4"/>
<circle cx="365.35" cy="681.78" r="1.4"/>
<circle cx="365.35" cy="701.00" r="1.4"/>
<circle cx="365.35" cy="698.25" r="1.4"/>
<circle cx="365.35" cy="695.51" r="1.4"/>
<circle cx="365.35" cy="692.76" r="1.4"/>
<circle cx="365.35" cy="690.02" r="1.4"/>
<circle cx="365.35" cy="687.27" r="1.4"/>
<circle cx="411.19" cy="670.80" r="1.4"/>
<circle cx="411.19" cy="701.00" r="1.4"/>
<circle cx="411.19" cy="698.25" r="1.4"/>
<circle cx="411.19" cy="695.51" r="1.4"/>
<circle cx="411.19" cy="692.76" r="1.4"/>
<circle cx="411.19" cy="690.02" r="1.4"/>
<circle cx="411.19" cy="687.27" r="1.4"/>
<circle cx="411.19" cy="684.53" r="1.4"/>
<circle cx="411.19" cy="681.78" r="1.4"/>
<circle cx="411.19" cy="679.04" r="1.4"/>
<circle cx="457.03" cy="701.00" r="1.4"/>
<circle cx="457.03" cy="698.25" r="1.4"/>
<circle cx="457.03" cy="695.51" r="1.4"/>
<circle cx="457.03" cy="692.76" r="1.4"/>
<circle cx="457.03" cy="690.02" r="1.4"/>
<circle cx="457.03" cy="687.27" r="1.4"/>
<circle cx="457.03" cy="684.53" r="1.4"/>
<rect x="270.32" y="654.41" width="6.7" height="21.27" fill="#000" fill-opacity="0.5"/>
<rect x="274.90" y="657.27" width="6.7" height="19.90" fill="#000" fill-opacity="0.5"/>
<rect x="279.49" y="659.96" width="6.7" height="18.63" fill="#000" fill-opacity="0.5"/>
<rect x="284.07" y="662.48" width="6.7" height="17.43" fill="#000" fill-opacity="0.5"/>
<rect x="288.65" y="664.85" width="6.7" height="16.31" fill="#000" fill-opacity="0.5"/>
<rect x="293.24" y="667.07" width="6.7" height="15.26" fill="#000" fill-opacity="0.5"/>
<rect x="297.82" y="669.16" width="6.7" height="14.28" fill="#000" fill-opacity="0.5"/>
<rect x="302.41" y="671.12" width="6.7" height="13.36" fill="#000" fill-opacity="0.5"/>
<rect x="306.99" y="672.96" width="6.7" height="12.50" fill="#000" fill-opacity="0.5"/>
<rect x="311.57" y="674.68" width="6.7" height="11.70" fill="#000" fill-opacity="0.5"/>
<rect x="316.16" y="676.30" width="6.7" height="10.94" fill="#000" fill-opacity="0.5"/>
<rect x="320.74" y="677.82" width="6.7" height="10.24" fill="#000" fill-opacity="0.5"/>
<rect x="325.33" y="679.24" width="6.7" height="9.58" fill="#000" fill-opacity="0.5"/>
<rect x="329.91" y="680.58" width="6.7" height="8.96" fill="#000" fill-opacity="0.5"/>
<rect x="334.50" y="681.84" width="6.7" height="8.38" fill="#000" fill-opacity="0.5"/>
<rect x="339.08" y="683.02" width="6.7" height="7.84" fill="#000" fill-opacity="0.5"/>
<rect x="343.66" y="684.12" width="6.7" height="7.34" fill="#000" fill-opacity="0.5"/>
<rect x="348.25" y="685.16" width="6.7" height="6.86" fill="#000" fill-opacity="0.5"/>
<rect x="352.83" y="686.13" width="6.7" height="6.42" fill="#000" fill-opacity="0.5"/>
<rect x="357.42" y="687.05" width="6.7" height="6.01" fill="#000" fill-opacity="0.5"/>
<rect x="362.00" y="687.91" width="6.7" height="5.62" fill="#000" fill-opacity="0.5"/>
<rect x="366.58" y="688.71" width="6.7" height="5.26" fill="#000" fill-opacity="0.5"/>
<rect x="371.17" y="689.47" width="6.7" height="4.92" fill="#000" fill-opacity="0.5"/>
<rect x="375.75" y="690.18" width="6.7" height="4.60" fill="#000" fill-opacity="0.5"/>
<rect x="380.34" y="690.84" width="6.7" height="4.30" fill="#000" fill-opacity="0.5"/>
<rect x="384.92" y="691.47" width="6.7" height="4.02" fill="#000" fill-opacity="0.5"/>
<rect x="389.50" y="692.06" width="6.7" height="3.76" fill="#000" fill-opacity="0.5"/>
<rect x="394.09" y="692.61" width="6.7" height="3.52" fill="#000" fill-opacity="0.5"/>
<rect x="398.67" y="693.12" width="6.7" height="3.29" fill="#000" fill-opacity="0.5"/>
<rect x="403.26" y="693.61" width="6.7" height="3.08" fill="#000" fill-opacity="0.5"/>
<rect x="407.84" y="694.06" width="6.7" height="2.88" fill="#000" fill-opacity="0.5"/>
<rect x="412.42" y="694.49" width="6.7" height="2.69" fill="#000" fill-opacity="0.5"/>
<rect x="417.01" y="694.89" width="6.7" height="2.52" fill="#000" fill-opacity="0.5"/>
<rect x="421.59" y="695.27" width="6.7" height="2.35" fill="#000" fill-opacity="0.5"/>
<rect x="426.18" y="695.62" width="6.7" height="2.20" fill="#000" fill-opacity="0.5"/>
<rect x="430.76" y="695.95" width="6.7" height="2.06" fill="#000" fill-opacity="0.5"/>
<rect x="435.35" y="696.26" width="6.7" height="1.92" fill="#000" fill-opacity="0.5"/>
<rect x="439.93" y="696.55" width="6.7" height="1.80" fill="#000" fill-opacity="0.5"/>
<rect x="444.51" y="696.83" width="6.7" height="1.68" fill="#000" fill-opacity="0.5"/>
<rect x="449.10" y="697.08" width="6.7" height="1.57" fill="#000" fill-opacity="0.5"/>
<rect x="453.68" y="697.32" width="6.7" height="1.47" fill="#000" fill-opacity="0.5"/>
<circle cx="273.67" cy="667.24" r="3.45"/>
<circle cx="278.25" cy="669.27" r="3.45"/>
<circle cx="282.84" cy="671.17" r="3.45"/>
<circle cx="287.42" cy="672.97" r="3.45"/>
<circle cx="292.00" cy="674.65" r="3.45"/>
<circle cx="296.59" cy="676.24" r="3.45"/>
<circle cx="301.17" cy="677.72" r="3.45"/>
<circle cx="305.76" cy="679.12" r="3.45"/>
<circle cx="310.34" cy="680.44" r="3.45"/>
<circle cx="314.93" cy="681.68" r="3.45"/>
<circle cx="319.51" cy="682.84" r="3.45"/>
<circle cx="324.09" cy="683.93" r="3.45"/>
<circle cx="328.68" cy="684.96" r="3.45"/>
<circle cx="333.26" cy="685.92" r="3.45"/>
<circle cx="337.85" cy="686.83" r="3.45"/>
<circle cx="342.43" cy="687.68" r="3.45"/>
<circle cx="347.01" cy="688.48" r="3.45"/>
<circle cx="351.60" cy="689.23" r="3.45"/>
<circle cx="356.18" cy="689.94" r="3.45"/>
<circle cx="360.77" cy="690.60" r="3.45"/>
<circle cx="365.35" cy="691.23" r="3.45"/>
<circle cx="369.93" cy="691.82" r="3.45"/>
<circle cx="374.52" cy="692.37" r="3.45"/>
<circle cx="379.10" cy="692.89" r="3.45"/>
<circle cx="383.69" cy="693.38" r="3.45"/>
<circle cx="388.27" cy="693.83" r="3.45"/>
<circle cx="392.85" cy="694.26" r="3.45"/>
<circle cx="397.44" cy="694.67" r="3.45"/>
<circle cx="402.02" cy="695.05" r="3.45"/>
<circle cx="406.61" cy="695.41" r="3.45"/>
<circle cx="411.19" cy="695.74" r="3.45"/>
<circle cx="415.77" cy="696.06" r="3.45"/>
<circle cx="420.36" cy="696.36" r="3.45"/>
<circle cx="424.94" cy="696.64" r="3.45"/>
<circle cx="429.53" cy="696.90" r="3.45"/>
<circle cx="434.11" cy="697.14" r="3.45"/>
<circle cx="438.70" cy="697.38" r="3.45"/>
<circle cx="443.28" cy="697.59" r="3.45"/>
<circle cx="447.86" cy="697.80" r="3.45"/>
<circle cx="452.45" cy="697.99" r="3.45"/>
<circle cx="457.03" cy="698.17" r="3.45"/>
<polyline fill="none" stroke="#c0c0c0" stroke-width="1.9" points="273.67,667.24 278.25,669.27 282.84,671.17 287.42,672.97 292.00,674.65 296.59,676.24 301.17,677.72 305.76,679.12 310.34,680.44 314.93,681.68 319.51,682.84 324.09,683.93 328.68,684.96 333.26,685.92 337.85,686.83 342.43,687.68 347.01,688.48 351.60,689.23 356.18,689.94 360.77,690.60 365.35,691.23 369.93,691.82 374.52,692.37 379.10,692.89 383.69,693.38 388.27,693.83 392.85,694.26 397.44,694.67 402.02,695.05 406.61,695.41 411.19,695.74 415.77,696.06 420.36,696.36 424.94,696.64 429.53,696.90 434.11,697.14 438.70,697.38 443.28,697.59 447.86,697.80 452.45,697.99 457.03,698.17"/>
<text x="359.8" y="561.4" font-size="17" text-anchor="middle" fill="#000">a</text>
<rect x="264.5" y="542.7" width="201.7" height="165.79999999999995" fill="none" stroke="#222222" stroke-width="1.4"/>
<rect x="475.3" y="515.1" width="201.40000000000003" height="27.600000000000023" fill="#d9d9d9" stroke="#222222" stroke-width="1.4"/>
<text x="568.0" y="534.1" font-size="14.2" text-anchor="middle" fill="#1a1a1a">early VI</text>
<rect x="475.3" y="542.7" width="201.40000000000003" height="165.79999999999995" fill="#fff"/>
<line x1="475.30" y1="673.55" x2="676.70" y2="673.55" stroke="#ebebeb" stroke-width="0.8"/>
<line x1="475.30" y1="618.65" x2="676.70" y2="618.65" stroke="#ebebeb" stroke-width="0.8"/>
<line x1="475.30" y1="563.75" x2="676.70" y2="563.75" stroke="#ebebeb" stroke-width="0.8"/>
<line x1="507.34" y1="542.70" x2="507.34" y2="708.50" stroke="#ebebeb" stroke-width="0.8"/>
<line x1="553.11" y1="542.70" x2="553.11" y2="708.50" stroke="#ebebeb" stroke-width="0.8"/>
<line x1="598.89" y1="542.70" x2="598.89" y2="708.50" stroke="#ebebeb" stroke-width="0.8"/>
<line x1="644.66" y1="542.70" x2="644.66" y2="708.50" stroke="#ebebeb" stroke-width="0.8"/>
<line x1="475.30" y1="701.00" x2="676.70" y2="701.00" stroke="#ebebeb" stroke-width="1.6"/>
<line x1="475.30" y1="646.10" x2="676.70" y2="646.10" stroke="#ebebeb" stroke-width="1.6"/>
<line x1="475.30" y1="591.20" x2="676.70" y2="591.20" stroke="#ebebeb" stroke-width="1.6"/>
<line x1="484.45" y1="542.70" x2="484.45" y2="708.50" stroke="#ebebeb" stroke-width="1.6"/>
<line x1="530.23" y1="542.70" x2="530.23" y2="708.50" stroke="#ebebeb" stroke-width="1.6"/>
<line x1="576.00" y1="542.70" x2="576.00" y2="708.50" stroke="#ebebeb" stroke-width="1.6"/>
<line x1="621.77" y1="542.70" x2="621.77" y2="708.50" stroke="#ebebeb" stroke-width="1.6"/>
<line x1="667.55" y1="542.70" x2="667.55" y2="708.50" stroke="#ebebeb" stroke-width="1.6"/>
<circle cx="484.45" cy="599.43" r="1.4"/>
<circle cx="484.45" cy="621.39" r="1.4"/>
<circle cx="484.45" cy="626.88" r="1.4"/>
<circle cx="484.45" cy="632.38" r="1.4"/>
<circle cx="484.45" cy="637.87" r="1.4"/>
<circle cx="484.45" cy="651.59" r="1.4"/>
<circle cx="484.45" cy="654.34" r="1.4"/>
<circle cx="484.45" cy="657.08" r="1.4"/>
<circle cx="484.45" cy="659.83" r="1.4"/>
<circle cx="484.45" cy="668.06" r="1.4"/>
<circle cx="484.45" cy="701.00" r="1.4"/>
<circle cx="484.45" cy="698.25" r="1.4"/>
<circle cx="484.45" cy="695.51" r="1.4"/>
<circle cx="484.45" cy="692.76" r="1.4"/>
<circle cx="484.45" cy="690.02" r="1.4"/>
<circle cx="484.45" cy="687.27" r="1.4"/>
<circle cx="484.45" cy="684.53" r="1.4"/>
<circle cx="484.45" cy="681.78" r="1.4"/>
<circle cx="484.45" cy="679.04" r="1.4"/>
<circle cx="530.23" cy="602.18" r="1.4"/>
<circle cx="530.23" cy="610.41" r="1.4"/>
<circle cx="530.23" cy="613.16" r="1.4"/>
<circle cx="530.23" cy="618.65" r="1.4"/>
<circle cx="530.23" cy="635.12" r="1.4"/>
<circle cx="530.23" cy="646.10" r="1.4"/>
<circle cx="530.23" cy="665.32" r="1.4"/>
<circle cx="530.23" cy="668.06" r="1.4"/>
<circle cx="530.23" cy="673.55" r="1.4"/>
<circle cx="530.23" cy="676.29" r="1.4"/>
<circle cx="530.23" cy="679.04" r="1.4"/>
<circle cx="530.23" cy="701.00" r="1.4"/>
<circle cx="530.23" cy="698.25" r="1.4"/>
<circle cx="530.23" cy="695.51" r="1.4"/>
<circle cx="530.23" cy="692.76" r="1.4"/>
<circle cx="530.23" cy="690.02" r="1.4"/>
<circle cx="530.23" cy="687.27" r="1.4"/>
<circle cx="530.23" cy="684.53" r="1.4"/>
<circle cx="530.23" cy="681.78" r="1.4"/>
<circle cx="576.00" cy="701.00" r="1.4"/>
<circle cx="576.00" cy="698.25" r="1.4"/>
<circle cx="576.00" cy="695.51" r="1.4"/>
<circle cx="576.00" cy="692.76" r="1.4"/>
<circle cx="576.00" cy="690.02" r="1.4"/>
<circle cx="576.00" cy="687.27" r="1.4"/>
<circle cx="576.00" cy="684.53" r="1.4"/>
<circle cx="576.00" cy="681.78" r="1.4"/>
<circle cx="576.00" cy="679.04" r="1.4"/>
<circle cx="576.00" cy="676.29" r="1.4"/>
<circle cx="576.00" cy="673.55" r="1.4"/>
<circle cx="621.77" cy="673.55" r="1.4"/>
<circle cx="621.77" cy="679.04" r="1.4"/>
<circle cx="621.77" cy="701.00" r="1.4"/>
<circle cx="621.77" cy="698.25" r="1.4"/>
<circle cx="621.77" cy="695.51" r="1.4"/>
<circle cx="621.77" cy="692.76" r="1.4"/>
<circle cx="621.77" cy="690.02" r="1.4"/>
<circle cx="621.77" cy="687.27" r="1.4"/>
<circle cx="621.77" cy="684.53" r="1.4"/>
<circle cx="667.55" cy="684.53" r="1.4"/>
<circle cx="667.55" cy="701.00" r="1.4"/>
<circle cx="667.55" cy="698.25" r="1.4"/>
<circle cx="667.55" cy="695.51" r="1.4"/>
<circle cx="667.55" cy="692.76" r="1.4"/>
<circle cx="667.55" cy="690.02" r="1.4"/>
<rect x="481.10" y="666.91" width="6.7" height="15.91" fill="#000" fill-opacity="0.5"/>
<rect x="485.68" y="668.34" width="6.7" height="15.19" fill="#000" fill-opacity="0.5"/>
<rect x="490.26" y="669.71" width="6.7" height="14.50" fill="#000" fill-opacity="0.5"/>
<rect x="494.84" y="671.03" width="6.7" height="13.84" fill="#000" fill-opacity="0.5"/>
<rect x="499.41" y="672.29" width="6.7" height="13.21" fill="#000" fill-opacity="0.5"/>
<rect x="503.99" y="673.49" width="6.7" height="12.61" fill="#000" fill-opacity="0.5"/>
<rect x="508.57" y="674.65" width="6.7" height="12.04" fill="#000" fill-opacity="0.5"/>
<rect x="513.15" y="675.76" width="6.7" height="11.50" fill="#000" fill-opacity="0.5"/>
<rect x="517.72" y="676.82" width="6.7" height="10.97" fill="#000" fill-opacity="0.5"/>
<rect x="522.30" y="677.83" width="6.7" height="10.47" fill="#000" fill-opacity="0.5"/>
<rect x="526.88" y="678.81" width="6.7" height="10.00" fill="#000" fill-opacity="0.5"/>
<rect x="531.45" y="679.74" width="6.7" height="9.54" fill="#000" fill-opacity="0.5"/>
<rect x="536.03" y="680.63" width="6.7" height="9.11" fill="#000" fill-opacity="0.5"/>
<rect x="540.61" y="681.49" width="6.7" height="8.69" fill="#000" fill-opacity="0.5"/>
<rect x="545.19" y="682.31" width="6.7" height="8.30" fill="#000" fill-opacity="0.5"/>
<rect x="549.76" y="683.09" width="6.7" height="7.92" fill="#000" fill-opacity="0.5"/>
<rect x="554.34" y="683.85" width="6.7" height="7.56" fill="#000" fill-opacity="0.5"/>
<rect x="558.92" y="684.57" width="6.7" height="7.21" fill="#000" fill-opacity="0.5"/>
<rect x="563.50" y="685.26" width="6.7" height="6.88" fill="#000" fill-opacity="0.5"/>
<rect x="568.07" y="685.92" width="6.7" height="6.57" fill="#000" fill-opacity="0.5"/>
<rect x="572.65" y="686.55" width="6.7" height="6.27" fill="#000" fill-opacity="0.5"/>
<rect x="577.23" y="687.16" width="6.7" height="5.98" fill="#000" fill-opacity="0.5"/>
<rect x="581.80" y="687.74" width="6.7" height="5.71" fill="#000" fill-opacity="0.5"/>
<rect x="586.38" y="688.30" width="6.7" height="5.45" fill="#000" fill-opacity="0.5"/>
<rect x="590.96" y="688.83" width="6.7" height="5.20" fill="#000" fill-opacity="0.5"/>
<rect x="595.54" y="689.35" width="6.7" height="4.96" fill="#000" fill-opacity="0.5"/>
<rect x="600.11" y="689.84" width="6.7" height="4.73" fill="#000" fill-opacity="0.5"/>
<rect x="604.69" y="690.31" width="6.7" height="4.52" fill="#000" fill-opacity="0.5"/>
<rect x="609.27" y="690.75" width="6.7" height="4.31" fill="#000" fill-opacity="0.5"/>
<rect x="613.85" y="691.19" width="6.7" height="4.11" fill="#000" fill-opacity="0.5"/>
<rect x="618.42" y="691.60" width="6.7" height="3.92" fill="#000" fill-opacity="0.5"/>
<rect x="623.00" y="691.99" width="6.7" height="3.74" fill="#000" fill-opacity="0.5"/>
<rect x="627.58" y="692.37" width="6.7" height="3.57" fill="#000" fill-opacity="0.5"/>
<rect x="632.15" y="692.73" width="6.7" height="3.41" fill="#000" fill-opacity="0.5"/>
<rect x="636.73" y="693.08" width="6.7" height="3.25" fill="#000" fill-opacity="0.5"/>
<rect x="641.31" y="693.42" width="6.7" height="3.10" fill="#000" fill-opacity="0.5"/>
<rect x="645.89" y="693.73" width="6.7" height="2.96" fill="#000" fill-opacity="0.5"/>
<rect x="650.46" y="694.04" width="6.7" height="2.82" fill="#000" fill-opacity="0.5"/>
<rect x="655.04" y="694.33" width="6.7" height="2.69" fill="#000" fill-opacity="0.5"/>
<rect x="659.62" y="694.61" width="6.7" height="2.57" fill="#000" fill-opacity="0.5"/>
<rect x="664.20" y="694.88" width="6.7" height="2.45" fill="#000" fill-opacity="0.5"/>
<circle cx="484.45" cy="675.75" r="3.45"/>
<circle cx="489.03" cy="676.78" r="3.45"/>
<circle cx="493.61" cy="677.78" r="3.45"/>
<circle cx="498.19" cy="678.74" r="3.45"/>
<circle cx="502.76" cy="679.65" r="3.45"/>
<circle cx="507.34" cy="680.53" r="3.45"/>
<circle cx="511.92" cy="681.37" r="3.45"/>
<circle cx="516.50" cy="682.18" r="3.45"/>
<circle cx="521.07" cy="682.95" r="3.45"/>
<circle cx="525.65" cy="683.70" r="3.45"/>
<circle cx="530.23" cy="684.41" r="3.45"/>
<circle cx="534.80" cy="685.09" r="3.45"/>
<circle cx="539.38" cy="685.74" r="3.45"/>
<circle cx="543.96" cy="686.37" r="3.45"/>
<circle cx="548.54" cy="686.97" r="3.45"/>
<circle cx="553.11" cy="687.55" r="3.45"/>
<circle cx="557.69" cy="688.10" r="3.45"/>
<circle cx="562.27" cy="688.63" r="3.45"/>
<circle cx="566.85" cy="689.14" r="3.45"/>
<circle cx="571.42" cy="689.63" r="3.45"/>
<circle cx="576.00" cy="690.10" r="3.45"/>
<circle cx="580.58" cy="690.55" r="3.45"/>
<circle cx="585.15" cy="690.98" r="3.45"/>
<circle cx="589.73" cy="691.39" r="3.45"/>
<circle cx="594.31" cy="691.78" r="3.45"/>
<circle cx="598.89" cy="692.16" r="3.45"/>
<circle cx="603.46" cy="692.53" r="3.45"/>
<circle cx="608.04" cy="692.87" r="3.45"/>
<circle cx="612.62" cy="693.21" r="3.45"/>
<circle cx="617.20" cy="693.53" r="3.45"/>
<circle cx="621.77" cy="693.84" r="3.45"/>
<circle cx="626.35" cy="694.13" r="3.45"/>
<circle cx="630.93" cy="694.41" r="3.45"/>
<circle cx="635.50" cy="694.68" r="3.45"/>
<circle cx="640.08" cy="694.94" r="3.45"/>
<circle cx="644.66" cy="695.19" r="3.45"/>
<circle cx="649.24" cy="695.43" r="3.45"/>
<circle cx="653.81" cy="695.66" r="3.45"/>
<circle cx="658.39" cy="695.88" r="3.45"/>
<circle cx="662.97" cy="696.09" r="3.45"/>
<circle cx="667.55" cy="696.29" r="3.45"/>
<polyline fill="none" stroke="#c0c0c0" stroke-width="1.9" points="484.45,675.75 489.03,676.78 493.61,677.78 498.19,678.74 502.76,679.65 507.34,680.53 511.92,681.37 516.50,682.18 521.07,682.95 525.65,683.70 530.23,684.41 534.80,685.09 539.38,685.74 543.96,686.37 548.54,686.97 553.11,687.55 557.69,688.10 562.27,688.63 566.85,689.14 571.42,689.63 576.00,690.10 580.58,690.55 585.15,690.98 589.73,691.39 594.31,691.78 598.89,692.16 603.46,692.53 608.04,692.87 612.62,693.21 617.20,693.53 621.77,693.84 626.35,694.13 630.93,694.41 635.50,694.68 640.08,694.94 644.66,695.19 649.24,695.43 653.81,695.66 658.39,695.88 662.97,696.09 667.55,696.29"/>
<text x="569.3" y="562.6" font-size="17" text-anchor="middle" fill="#000">b</text>
<rect x="475.3" y="542.7" width="201.40000000000003" height="165.79999999999995" fill="none" stroke="#222222" stroke-width="1.4"/>
<rect x="53.9" y="717.8" width="201.5" height="27.700000000000045" fill="#d9d9d9" stroke="#222222" stroke-width="1.4"/>
<text x="146.5" y="736.9" font-size="14.2" text-anchor="middle" fill="#1a1a1a">mid-VI</text>
<rect x="53.9" y="745.5" width="201.5" height="165.79999999999995" fill="#fff"/>
<line x1="53.90" y1="876.55" x2="255.40" y2="876.55" stroke="#ebebeb" stroke-width="0.8"/>
<line x1="53.90" y1="821.65" x2="255.40" y2="821.65" stroke="#ebebeb" stroke-width="0.8"/>
<line x1="53.90" y1="766.75" x2="255.40" y2="766.75" stroke="#ebebeb" stroke-width="0.8"/>
<line x1="85.96" y1="745.50" x2="85.96" y2="911.30" stroke="#ebebeb" stroke-width="0.8"/>
<line x1="131.75" y1="745.50" x2="131.75" y2="911.30" stroke="#ebebeb" stroke-width="0.8"/>
<line x1="177.55" y1="745.50" x2="177.55" y2="911.30" stroke="#ebebeb" stroke-width="0.8"/>
<line x1="223.34" y1="745.50" x2="223.34" y2="911.30" stroke="#ebebeb" stroke-width="0.8"/>
<line x1="53.90" y1="904.00" x2="255.40" y2="904.00" stroke="#ebebeb" stroke-width="1.6"/>
<line x1="53.90" y1="849.10" x2="255.40" y2="849.10" stroke="#ebebeb" stroke-width="1.6"/>
<line x1="53.90" y1="794.20" x2="255.40" y2="794.20" stroke="#ebebeb" stroke-width="1.6"/>
<line x1="63.06" y1="745.50" x2="63.06" y2="911.30" stroke="#ebebeb" stroke-width="1.6"/>
<line x1="108.85" y1="745.50" x2="108.85" y2="911.30" stroke="#ebebeb" stroke-width="1.6"/>
<line x1="154.65" y1="745.50" x2="154.65" y2="911.30" stroke="#ebebeb" stroke-width="1.6"/>
<line x1="200.45" y1="745.50" x2="200.45" y2="911.30" stroke="#ebebeb" stroke-width="1.6"/>
<line x1="246.24" y1="745.50" x2="246.24" y2="911.30" stroke="#ebebeb" stroke-width="1.6"/>
<circle cx="63.06" cy="840.87" r="1.4"/>
<circle cx="63.06" cy="862.83" r="1.4"/>
<circle cx="63.06" cy="871.06" r="1.4"/>
<circle cx="63.06" cy="876.55" r="1.4"/>
<circle cx="63.06" cy="879.29" r="1.4"/>
<circle cx="63.06" cy="882.04" r="1.4"/>
<circle cx="63.06" cy="901.25" r="1.4"/>
<circle cx="63.06" cy="898.51" r="1.4"/>
<circle cx="63.06" cy="895.76" r="1.4"/>
<circle cx="63.06" cy="893.02" r="1.4"/>
<circle cx="63.06" cy="890.27" r="1.4"/>
<circle cx="63.06" cy="887.53" r="1.4"/>
<circle cx="63.06" cy="884.78" r="1.4"/>
<circle cx="108.85" cy="838.12" r="1.4"/>
<circle cx="108.85" cy="860.08" r="1.4"/>
<circle cx="108.85" cy="865.57" r="1.4"/>
<circle cx="108.85" cy="868.32" r="1.4"/>
<circle cx="108.85" cy="873.80" r="1.4"/>
<circle cx="108.85" cy="876.55" r="1.4"/>
<circle cx="108.85" cy="879.29" r="1.4"/>
<circle cx="108.85" cy="882.04" r="1.4"/>
<circle cx="108.85" cy="884.78" r="1.4"/>
<circle cx="108.85" cy="904.00" r="1.4"/>
<circle cx="108.85" cy="901.25" r="1.4"/>
<circle cx="108.85" cy="898.51" r="1.4"/>
<circle cx="108.85" cy="895.76" r="1.4"/>
<circle cx="108.85" cy="893.02" r="1.4"/>
<circle cx="108.85" cy="890.27" r="1.4"/>
<circle cx="108.85" cy="887.53" r="1.4"/>
<circle cx="154.65" cy="873.80" r="1.4"/>
<circle cx="154.65" cy="884.78" r="1.4"/>
<circle cx="154.65" cy="904.00" r="1.4"/>
<circle cx="154.65" cy="901.25" r="1.4"/>
<circle cx="154.65" cy="898.51" r="1.4"/>
<circle cx="154.65" cy="895.76" r="1.4"/>
<circle cx="154.65" cy="893.02" r="1.4"/>
<circle cx="154.65" cy="890.27" r="1.4"/>
<circle cx="200.45" cy="879.29" r="1.4"/>
<circle cx="200.45" cy="882.04" r="1.4"/>
<circle cx="200.45" cy="884.78" r="1.4"/>
<circle cx="200.45" cy="904.00" r="1.4"/>
<circle cx="200.45" cy="901.25" r="1.4"/>
<circle cx="200.45" cy="898.51" r="1.4"/>
<circle cx="200.45" cy="895.76" r="1.4"/>
<circle cx="200.45" cy="893.02" r="1.4"/>
<circle cx="200.45" cy="890.27" r="1.4"/>
<circle cx="246.24" cy="884.78" r="1.4"/>
<circle cx="246.24" cy="904.00" r="1.4"/>
<circle cx="246.24" cy="901.25" r="1.4"/>
<circle cx="246.24" cy="898.51" r="1.4"/>
<circle cx="246.24" cy="895.76" r="1.4"/>
<circle cx="246.24" cy="893.02" r="1.4"/>
<rect x="59.71" y="885.80" width="6.7" height="7.28" fill="#000" fill-opacity="0.5"/>
<rect x="64.29" y="886.43" width="6.7" height="7.03" fill="#000" fill-opacity="0.5"/>
<rect x="68.87" y="887.03" width="6.7" height="6.79" fill="#000" fill-opacity="0.5"/>
<rect x="73.45" y="887.61" width="6.7" height="6.55" fill="#000" fill-opacity="0.5"/>
<rect x="78.03" y="888.18" width="6.7" height="6.33" fill="#000" fill-opacity="0.5"/>
<rect x="82.61" y="888.72" width="6.7" height="6.11" fill="#000" fill-opacity="0.5"/>
<rect x="87.19" y="889.25" width="6.7" height="5.90" fill="#000" fill-opacity="0.5"/>
<rect x="91.77" y="889.76" width="6.7" height="5.70" fill="#000" fill-opacity="0.5"/>
<rect x="96.35" y="890.25" width="6.7" height="5.50" fill="#000" fill-opacity="0.5"/>
<rect x="100.92" y="890.72" width="6.7" height="5.31" fill="#000" fill-opacity="0.5"/>
<rect x="105.50" y="891.18" width="6.7" height="5.13" fill="#000" fill-opacity="0.5"/>
<rect x="110.08" y="891.62" width="6.7" height="4.95" fill="#000" fill-opacity="0.5"/>
<rect x="114.66" y="892.04" width="6.7" height="4.78" fill="#000" fill-opacity="0.5"/>
<rect x="119.24" y="892.45" width="6.7" height="4.62" fill="#000" fill-opacity="0.5"/>
<rect x="123.82" y="892.85" width="6.7" height="4.46" fill="#000" fill-opacity="0.5"/>
<rect x="128.40" y="893.23" width="6.7" height="4.31" fill="#000" fill-opacity="0.5"/>
<rect x="132.98" y="893.60" width="6.7" height="4.16" fill="#000" fill-opacity="0.5"/>
<rect x="137.56" y="893.96" width="6.7" height="4.02" fill="#000" fill-opacity="0.5"/>
<rect x="142.14" y="894.31" width="6.7" height="3.88" fill="#000" fill-opacity="0.5"/>
<rect x="146.72" y="894.64" width="6.7" height="3.74" fill="#000" fill-opacity="0.5"/>
<rect x="151.30" y="894.96" width="6.7" height="3.62" fill="#000" fill-opacity="0.5"/>
<rect x="155.88" y="895.27" width="6.7" height="3.49" fill="#000" fill-opacity="0.5"/>
<rect x="160.46" y="895.57" width="6.7" height="3.37" fill="#000" fill-opacity="0.5"/>
<rect x="165.04" y="895.86" width="6.7" height="3.25" fill="#000" fill-opacity="0.5"/>
<rect x="169.62" y="896.14" width="6.7" height="3.14" fill="#000" fill-opacity="0.5"/>
<rect x="174.20" y="896.41" width="6.7" height="3.03" fill="#000" fill-opacity="0.5"/>
<rect x="178.78" y="896.67" width="6.7" height="2.93" fill="#000" fill-opacity="0.5"/>
<rect x="183.36" y="896.93" width="6.7" height="2.83" fill="#000" fill-opacity="0.5"/>
<rect x="187.94" y="897.17" width="6.7" height="2.73" fill="#000" fill-opacity="0.5"/>
<rect x="192.52" y="897.40" width="6.7" height="2.64" fill="#000" fill-opacity="0.5"/>
<rect x="197.10" y="897.63" width="6.7" height="2.55" fill="#000" fill-opacity="0.5"/>
<rect x="201.68" y="897.85" width="6.7" height="2.46" fill="#000" fill-opacity="0.5"/>
<rect x="206.25" y="898.06" width="6.7" height="2.38" fill="#000" fill-opacity="0.5"/>
<rect x="210.83" y="898.27" width="6.7" height="2.29" fill="#000" fill-opacity="0.5"/>
<rect x="215.41" y="898.46" width="6.7" height="2.21" fill="#000" fill-opacity="0.5"/>
<rect x="219.99" y="898.65" width="6.7" height="2.14" fill="#000" fill-opacity="0.5"/>
<rect x="224.57" y="898.84" width="6.7" height="2.06" fill="#000" fill-opacity="0.5"/>
<rect x="229.15" y="899.02" width="6.7" height="1.99" fill="#000" fill-opacity="0.5"/>
<rect x="233.73" y="899.19" width="6.7" height="1.93" fill="#000" fill-opacity="0.5"/>
<rect x="238.31" y="899.35" width="6.7" height="1.86" fill="#000" fill-opacity="0.5"/>
<rect x="242.89" y="899.51" width="6.7" height="1.80" fill="#000" fill-opacity="0.5"/>
<circle cx="63.06" cy="890.00" r="3.45"/>
<circle cx="67.64" cy="890.48" r="3.45"/>
<circle cx="72.22" cy="890.95" r="3.45"/>
<circle cx="76.80" cy="891.40" r="3.45"/>
<circle cx="81.38" cy="891.83" r="3.45"/>
<circle cx="85.96" cy="892.25" r="3.45"/>
<circle cx="90.54" cy="892.65" r="3.45"/>
<circle cx="95.12" cy="893.04" r="3.45"/>
<circle cx="99.70" cy="893.42" r="3.45"/>
<circle cx="104.27" cy="893.78" r="3.45"/>
<circle cx="108.85" cy="894.13" r="3.45"/>
<circle cx="113.43" cy="894.47" r="3.45"/>
<circle cx="118.01" cy="894.80" r="3.45"/>
<circle cx="122.59" cy="895.12" r="3.45"/>
<circle cx="127.17" cy="895.42" r="3.45"/>
<circle cx="131.75" cy="895.72" r="3.45"/>
<circle cx="136.33" cy="896.00" r="3.45"/>
<circle cx="140.91" cy="896.28" r="3.45"/>
<circle cx="145.49" cy="896.54" r="3.45"/>
<circle cx="150.07" cy="896.80" r="3.45"/>
<circle cx="154.65" cy="897.05" r="3.45"/>
<circle cx="159.23" cy="897.29" r="3.45"/>
<circle cx="163.81" cy="897.52" r="3.45"/>
<circle cx="168.39" cy="897.74" r="3.45"/>
<circle cx="172.97" cy="897.96" r="3.45"/>
<circle cx="177.55" cy="898.16" r="3.45"/>
<circle cx="182.13" cy="898.36" r="3.45"/>
<circle cx="186.71" cy="898.56" r="3.45"/>
<circle cx="191.29" cy="898.75" r="3.45"/>
<circle cx="195.87" cy="898.93" r="3.45"/>
<circle cx="200.45" cy="899.10" r="3.45"/>
<circle cx="205.03" cy="899.27" r="3.45"/>
<circle cx="209.60" cy="899.43" r="3.45"/>
<circle cx="214.18" cy="899.59" r="3.45"/>
<circle cx="218.76" cy="899.74" r="3.45"/>
<circle cx="223.34" cy="899.89" r="3.45"/>
<circle cx="227.92" cy="900.03" r="3.45"/>
<circle cx="232.50" cy="900.17" r="3.45"/>
<circle cx="237.08" cy="900.30" r="3.45"/>
<circle cx="241.66" cy="900.42" r="3.45"/>
<circle cx="246.24" cy="900.55" r="3.45"/>
<polyline fill="none" stroke="#c0c0c0" stroke-width="1.9" points="63.06,890.00 67.64,890.48 72.22,890.95 76.80,891.40 81.38,891.83 85.96,892.25 90.54,892.65 95.12,893.04 99.70,893.42 104.27,893.78 108.85,894.13 113.43,894.47 118.01,894.80 122.59,895.12 127.17,895.42 131.75,895.72 136.33,896.00 140.91,896.28 145.49,896.54 150.07,896.80 154.65,897.05 159.23,897.29 163.81,897.52 168.39,897.74 172.97,897.96 177.55,898.16 182.13,898.36 186.71,898.56 191.29,898.75 195.87,898.93 200.45,899.10 205.03,899.27 209.60,899.43 214.18,899.59 218.76,899.74 223.34,899.89 227.92,900.03 232.50,900.17 237.08,900.30 241.66,900.42 246.24,900.55"/>
<text x="147.1" y="763.9" font-size="17" text-anchor="middle" fill="#000">b</text>
<rect x="53.9" y="745.5" width="201.5" height="165.79999999999995" fill="none" stroke="#222222" stroke-width="1.4"/>
<line x1="63.06" y1="911.30" x2="63.06" y2="915.50" stroke="#222222" stroke-width="1.4"/>
<text x="63.1" y="929.9" font-size="14.2" text-anchor="middle" fill="#1a1a1a">10</text>
<line x1="108.85" y1="911.30" x2="108.85" y2="915.50" stroke="#222222" stroke-width="1.4"/>
<text x="108.9" y="929.9" font-size="14.2" text-anchor="middle" fill="#1a1a1a">20</text>
<line x1="154.65" y1="911.30" x2="154.65" y2="915.50" stroke="#222222" stroke-width="1.4"/>
<text x="154.6" y="929.9" font-size="14.2" text-anchor="middle" fill="#1a1a1a">30</text>
<line x1="200.45" y1="911.30" x2="200.45" y2="915.50" stroke="#222222" stroke-width="1.4"/>
<text x="200.4" y="929.9" font-size="14.2" text-anchor="middle" fill="#1a1a1a">40</text>
<line x1="246.24" y1="911.30" x2="246.24" y2="915.50" stroke="#222222" stroke-width="1.4"/>
<text x="246.2" y="929.9" font-size="14.2" text-anchor="middle" fill="#1a1a1a">50</text>
<line x1="49.70" y1="904.00" x2="53.90" y2="904.00" stroke="#222222" stroke-width="1.4"/>
<text x="45.5" y="909.0" font-size="14.2" text-anchor="end" fill="#1a1a1a">0</text>
<line x1="49.70" y1="849.10" x2="53.90" y2="849.10" stroke="#222222" stroke-width="1.4"/>
<text x="45.5" y="854.1" font-size="14.2" text-anchor="end" fill="#1a1a1a">20</text>
<line x1="49.70" y1="794.20" x2="53.90" y2="794.20" stroke="#222222" stroke-width="1.4"/>
<text x="45.5" y="799.2" font-size="14.2" text-anchor="end" fill="#1a1a1a">40</text>
<rect x="264.5" y="717.8" width="201.7" height="27.700000000000045" fill="#d9d9d9" stroke="#222222" stroke-width="1.4"/>
<text x="360.3" y="736.9" font-size="14.2" text-anchor="middle" fill="#1a1a1a">early VII</text>
<rect x="264.5" y="745.5" width="201.7" height="165.79999999999995" fill="#fff"/>
<line x1="264.50" y1="876.55" x2="466.20" y2="876.55" stroke="#ebebeb" stroke-width="0.8"/>
<line x1="264.50" y1="821.65" x2="466.20" y2="821.65" stroke="#ebebeb" stroke-width="0.8"/>
<line x1="264.50" y1="766.75" x2="466.20" y2="766.75" stroke="#ebebeb" stroke-width="0.8"/>
<line x1="296.59" y1="745.50" x2="296.59" y2="911.30" stroke="#ebebeb" stroke-width="0.8"/>
<line x1="342.43" y1="745.50" x2="342.43" y2="911.30" stroke="#ebebeb" stroke-width="0.8"/>
<line x1="388.27" y1="745.50" x2="388.27" y2="911.30" stroke="#ebebeb" stroke-width="0.8"/>
<line x1="434.11" y1="745.50" x2="434.11" y2="911.30" stroke="#ebebeb" stroke-width="0.8"/>
<line x1="264.50" y1="904.00" x2="466.20" y2="904.00" stroke="#ebebeb" stroke-width="1.6"/>
<line x1="264.50" y1="849.10" x2="466.20" y2="849.10" stroke="#ebebeb" stroke-width="1.6"/>
<line x1="264.50" y1="794.20" x2="466.20" y2="794.20" stroke="#ebebeb" stroke-width="1.6"/>
<line x1="273.67" y1="745.50" x2="273.67" y2="911.30" stroke="#ebebeb" stroke-width="1.6"/>
<line x1="319.51" y1="745.50" x2="319.51" y2="911.30" stroke="#ebebeb" stroke-width="1.6"/>
<line x1="365.35" y1="745.50" x2="365.35" y2="911.30" stroke="#ebebeb" stroke-width="1.6"/>
<line x1="411.19" y1="745.50" x2="411.19" y2="911.30" stroke="#ebebeb" stroke-width="1.6"/>
<line x1="457.03" y1="745.50" x2="457.03" y2="911.30" stroke="#ebebeb" stroke-width="1.6"/>
<circle cx="273.67" cy="868.32" r="1.4"/>
<circle cx="273.67" cy="873.80" r="1.4"/>
<circle cx="273.67" cy="876.55" r="1.4"/>
<circle cx="273.67" cy="879.29" r="1.4"/>
<circle cx="273.67" cy="904.00" r="1.4"/>
<circle cx="273.67" cy="901.25" r="1.4"/>
<circle cx="273.67" cy="898.51" r="1.4"/>
<circle cx="273.67" cy="895.76" r="1.4"/>
<circle cx="273.67" cy="893.02" r="1.4"/>
<circle cx="273.67" cy="890.27" r="1.4"/>
<circle cx="273.67" cy="887.53" r="1.4"/>
<circle cx="319.51" cy="879.29" r="1.4"/>
<circle cx="319.51" cy="884.78" r="1.4"/>
<circle cx="319.51" cy="887.53" r="1.4"/>
<circle cx="319.51" cy="904.00" r="1.4"/>
<circle cx="319.51" cy="901.25" r="1.4"/>
<circle cx="319.51" cy="898.51" r="1.4"/>
<circle cx="319.51" cy="895.76" r="1.4"/>
<circle cx="319.51" cy="893.02" r="1.4"/>
<circle cx="365.35" cy="879.29" r="1.4"/>
<circle cx="365.35" cy="882.04" r="1.4"/>
<circle cx="365.35" cy="887.53" r="1.4"/>
<circle cx="365.35" cy="904.00" r="1.4"/>
<circle cx="365.35" cy="901.25" r="1.4"/>
<circle cx="365.35" cy="898.51" r="1.4"/>
<circle cx="365.35" cy="895.76" r="1.4"/>
<circle cx="411.19" cy="879.29" r="1.4"/>
<circle cx="411.19" cy="887.53" r="1.4"/>
<circle cx="411.19" cy="890.27" r="1.4"/>
<circle cx="411.19" cy="893.02" r="1.4"/>
<circle cx="411.19" cy="904.00" r="1.4"/>
<circle cx="411.19" cy="901.25" r="1.4"/>
<circle cx="411.19" cy="898.51" r="1.4"/>
<circle cx="411.19" cy="895.76" r="1.4"/>
<circle cx="457.03" cy="904.00" r="1.4"/>
<circle cx="457.03" cy="901.25" r="1.4"/>
<circle cx="457.03" cy="898.51" r="1.4"/>
<circle cx="457.03" cy="895.76" r="1.4"/>
<circle cx="457.03" cy="893.02" r="1.4"/>
<rect x="270.32" y="895.44" width="6.7" height="3.62" fill="#000" fill-opacity="0.5"/>
<rect x="274.90" y="895.71" width="6.7" height="3.51" fill="#000" fill-opacity="0.5"/>
<rect x="279.49" y="895.98" width="6.7" height="3.39" fill="#000" fill-opacity="0.5"/>
<rect x="284.07" y="896.24" width="6.7" height="3.28" fill="#000" fill-opacity="0.5"/>
<rect x="288.65" y="896.49" width="6.7" height="3.18" fill="#000" fill-opacity="0.5"/>
<rect x="293.24" y="896.74" width="6.7" height="3.07" fill="#000" fill-opacity="0.5"/>
<rect x="297.82" y="896.97" width="6.7" height="2.97" fill="#000" fill-opacity="0.5"/>
<rect x="302.41" y="897.20" width="6.7" height="2.88" fill="#000" fill-opacity="0.5"/>
<rect x="306.99" y="897.42" width="6.7" height="2.78" fill="#000" fill-opacity="0.5"/>
<rect x="311.57" y="897.64" width="6.7" height="2.69" fill="#000" fill-opacity="0.5"/>
<rect x="316.16" y="897.84" width="6.7" height="2.60" fill="#000" fill-opacity="0.5"/>
<rect x="320.74" y="898.04" width="6.7" height="2.52" fill="#000" fill-opacity="0.5"/>
<rect x="325.33" y="898.24" width="6.7" height="2.44" fill="#000" fill-opacity="0.5"/>
<rect x="329.91" y="898.42" width="6.7" height="2.36" fill="#000" fill-opacity="0.5"/>
<rect x="334.50" y="898.60" width="6.7" height="2.28" fill="#000" fill-opacity="0.5"/>
<rect x="339.08" y="898.78" width="6.7" height="2.21" fill="#000" fill-opacity="0.5"/>
<rect x="343.66" y="898.95" width="6.7" height="2.14" fill="#000" fill-opacity="0.5"/>
<rect x="348.25" y="899.11" width="6.7" height="2.07" fill="#000" fill-opacity="0.5"/>
<rect x="352.83" y="899.27" width="6.7" height="2.00" fill="#000" fill-opacity="0.5"/>
<rect x="357.42" y="899.42" width="6.7" height="1.94" fill="#000" fill-opacity="0.5"/>
<rect x="362.00" y="899.57" width="6.7" height="1.87" fill="#000" fill-opacity="0.5"/>
<rect x="366.58" y="899.72" width="6.7" height="1.81" fill="#000" fill-opacity="0.5"/>
<rect x="371.17" y="899.86" width="6.7" height="1.75" fill="#000" fill-opacity="0.5"/>
<rect x="375.75" y="899.99" width="6.7" height="1.70" fill="#000" fill-opacity="0.5"/>
<rect x="380.34" y="900.12" width="6.7" height="1.64" fill="#000" fill-opacity="0.5"/>
<rect x="384.92" y="900.25" width="6.7" height="1.59" fill="#000" fill-opacity="0.5"/>
<rect x="389.50" y="900.37" width="6.7" height="1.54" fill="#000" fill-opacity="0.5"/>
<rect x="394.09" y="900.49" width="6.7" height="1.49" fill="#000" fill-opacity="0.5"/>
<rect x="398.67" y="900.60" width="6.7" height="1.44" fill="#000" fill-opacity="0.5"/>
<rect x="403.26" y="900.71" width="6.7" height="1.39" fill="#000" fill-opacity="0.5"/>
<rect x="407.84" y="900.82" width="6.7" height="1.35" fill="#000" fill-opacity="0.5"/>
<rect x="412.42" y="900.92" width="6.7" height="1.30" fill="#000" fill-opacity="0.5"/>
<rect x="417.01" y="901.02" width="6.7" height="1.26" fill="#000" fill-opacity="0.5"/>
<rect x="421.59" y="901.12" width="6.7" height="1.22" fill="#000" fill-opacity="0.5"/>
<rect x="426.18" y="901.21" width="6.7" height="1.18" fill="#000" fill-opacity="0.5"/>
<rect x="430.76" y="901.30" width="6.7" height="1.14" fill="#000" fill-opacity="0.5"/>
<rect x="435.35" y="901.39" width="6.7" height="1.10" fill="#000" fill-opacity="0.5"/>
<rect x="439.93" y="901.47" width="6.7" height="1.07" fill="#000" fill-opacity="0.5"/>
<rect x="444.51" y="901.56" width="6.7" height="1.03" fill="#000" fill-opacity="0.5"/>
<rect x="449.10" y="901.64" width="6.7" height="1.00" fill="#000" fill-opacity="0.5"/>
<rect x="453.68" y="901.71" width="6.7" height="0.97" fill="#000" fill-opacity="0.5"/>
<circle cx="273.67" cy="897.41" r="3.45"/>
<circle cx="278.25" cy="897.63" r="3.45"/>
<circle cx="282.84" cy="897.83" r="3.45"/>
<circle cx="287.42" cy="898.03" r="3.45"/>
<circle cx="292.00" cy="898.23" r="3.45"/>
<circle cx="296.59" cy="898.41" r="3.45"/>
<circle cx="301.17" cy="898.60" r="3.45"/>
<circle cx="305.76" cy="898.77" r="3.45"/>
<circle cx="310.34" cy="898.94" r="3.45"/>
<circle cx="314.93" cy="899.10" r="3.45"/>
<circle cx="319.51" cy="899.26" r="3.45"/>
<circle cx="324.09" cy="899.42" r="3.45"/>
<circle cx="328.68" cy="899.57" r="3.45"/>
<circle cx="333.26" cy="899.71" r="3.45"/>
<circle cx="337.85" cy="899.85" r="3.45"/>
<circle cx="342.43" cy="899.98" r="3.45"/>
<circle cx="347.01" cy="900.11" r="3.45"/>
<circle cx="351.60" cy="900.24" r="3.45"/>
<circle cx="356.18" cy="900.36" r="3.45"/>
<circle cx="360.77" cy="900.48" r="3.45"/>
<circle cx="365.35" cy="900.59" r="3.45"/>
<circle cx="369.93" cy="900.71" r="3.45"/>
<circle cx="374.52" cy="900.81" r="3.45"/>
<circle cx="379.10" cy="900.92" r="3.45"/>
<circle cx="383.69" cy="901.02" r="3.45"/>
<circle cx="388.27" cy="901.11" r="3.45"/>
<circle cx="392.85" cy="901.21" r="3.45"/>
<circle cx="397.44" cy="901.30" r="3.45"/>
<circle cx="402.02" cy="901.39" r="3.45"/>
<circle cx="406.61" cy="901.47" r="3.45"/>
<circle cx="411.19" cy="901.55" r="3.45"/>
<circle cx="415.77" cy="901.63" r="3.45"/>
<circle cx="420.36" cy="901.71" r="3.45"/>
<circle cx="424.94" cy="901.78" r="3.45"/>
<circle cx="429.53" cy="901.85" r="3.45"/>
<circle cx="434.11" cy="901.92" r="3.45"/>
<circle cx="438.70" cy="901.99" r="3.45"/>
<circle cx="443.28" cy="902.06" r="3.45"/>
<circle cx="447.86" cy="902.12" r="3.45"/>
<circle cx="452.45" cy="902.18" r="3.45"/>
<circle cx="457.03" cy="902.24" r="3.45"/>
<polyline fill="none" stroke="#c0c0c0" stroke-width="1.9" points="273.67,897.41 278.25,897.63 282.84,897.83 287.42,898.03 292.00,898.23 296.59,898.41 301.17,898.60 305.76,898.77 310.34,898.94 314.93,899.10 319.51,899.26 324.09,899.42 328.68,899.57 333.26,899.71 337.85,899.85 342.43,899.98 347.01,900.11 351.60,900.24 356.18,900.36 360.77,900.48 365.35,900.59 369.93,900.71 374.52,900.81 379.10,900.92 383.69,901.02 388.27,901.11 392.85,901.21 397.44,901.30 402.02,901.39 406.61,901.47 411.19,901.55 415.77,901.63 420.36,901.71 424.94,901.78 429.53,901.85 434.11,901.92 438.70,901.99 443.28,902.06 447.86,902.12 452.45,902.18 457.03,902.24"/>
<text x="363.1" y="762.7" font-size="17" text-anchor="middle" fill="#000">bc</text>
<rect x="264.5" y="745.5" width="201.7" height="165.79999999999995" fill="none" stroke="#222222" stroke-width="1.4"/>
<line x1="273.67" y1="911.30" x2="273.67" y2="915.50" stroke="#222222" stroke-width="1.4"/>
<text x="273.7" y="929.9" font-size="14.2" text-anchor="middle" fill="#1a1a1a">10</text>
<line x1="319.51" y1="911.30" x2="319.51" y2="915.50" stroke="#222222" stroke-width="1.4"/>
<text x="319.5" y="929.9" font-size="14.2" text-anchor="middle" fill="#1a1a1a">20</text>
<line x1="365.35" y1="911.30" x2="365.35" y2="915.50" stroke="#222222" stroke-width="1.4"/>
<text x="365.4" y="929.9" font-size="14.2" text-anchor="middle" fill="#1a1a1a">30</text>
<line x1="411.19" y1="911.30" x2="411.19" y2="915.50" stroke="#222222" stroke-width="1.4"/>
<text x="411.2" y="929.9" font-size="14.2" text-anchor="middle" fill="#1a1a1a">40</text>
<line x1="457.03" y1="911.30" x2="457.03" y2="915.50" stroke="#222222" stroke-width="1.4"/>
<text x="457.0" y="929.9" font-size="14.2" text-anchor="middle" fill="#1a1a1a">50</text>
<rect x="475.3" y="717.8" width="201.40000000000003" height="27.700000000000045" fill="#d9d9d9" stroke="#222222" stroke-width="1.4"/>
<text x="575.9" y="736.9" font-size="14.2" text-anchor="middle" fill="#1a1a1a">mid-VII</text>
<rect x="475.3" y="745.5" width="201.40000000000003" height="165.79999999999995" fill="#fff"/>
<line x1="475.30" y1="876.55" x2="676.70" y2="876.55" stroke="#ebebeb" stroke-width="0.8"/>
<line x1="475.30" y1="821.65" x2="676.70" y2="821.65" stroke="#ebebeb" stroke-width="0.8"/>
<line x1="475.30" y1="766.75" x2="676.70" y2="766.75" stroke="#ebebeb" stroke-width="0.8"/>
<line x1="507.34" y1="745.50" x2="507.34" y2="911.30" stroke="#ebebeb" stroke-width="0.8"/>
<line x1="553.11" y1="745.50" x2="553.11" y2="911.30" stroke="#ebebeb" stroke-width="0.8"/>
<line x1="598.89" y1="745.50" x2="598.89" y2="911.30" stroke="#ebebeb" stroke-width="0.8"/>
<line x1="644.66" y1="745.50" x2="644.66" y2="911.30" stroke="#ebebeb" stroke-width="0.8"/>
<line x1="475.30" y1="904.00" x2="676.70" y2="904.00" stroke="#ebebeb" stroke-width="1.6"/>
<line x1="475.30" y1="849.10" x2="676.70" y2="849.10" stroke="#ebebeb" stroke-width="1.6"/>
<line x1="475.30" y1="794.20" x2="676.70" y2="794.20" stroke="#ebebeb" stroke-width="1.6"/>
<line x1="484.45" y1="745.50" x2="484.45" y2="911.30" stroke="#ebebeb" stroke-width="1.6"/>
<line x1="530.23" y1="745.50" x2="530.23" y2="911.30" stroke="#ebebeb" stroke-width="1.6"/>
<line x1="576.00" y1="745.50" x2="576.00" y2="911.30" stroke="#ebebeb" stroke-width="1.6"/>
<line x1="621.77" y1="745.50" x2="621.77" y2="911.30" stroke="#ebebeb" stroke-width="1.6"/>
<line x1="667.55" y1="745.50" x2="667.55" y2="911.30" stroke="#ebebeb" stroke-width="1.6"/>
<circle cx="484.45" cy="838.12" r="1.4"/>
<circle cx="484.45" cy="865.57" r="1.4"/>
<circle cx="484.45" cy="868.32" r="1.4"/>
<circle cx="484.45" cy="871.06" r="1.4"/>
<circle cx="484.45" cy="876.55" r="1.4"/>
<circle cx="484.45" cy="879.29" r="1.4"/>
<circle cx="484.45" cy="882.04" r="1.4"/>
<circle cx="484.45" cy="884.78" r="1.4"/>
<circle cx="484.45" cy="904.00" r="1.4"/>
<circle cx="484.45" cy="901.25" r="1.4"/>
<circle cx="484.45" cy="898.51" r="1.4"/>
<circle cx="484.45" cy="895.76" r="1.4"/>
<circle cx="484.45" cy="893.02" r="1.4"/>
<circle cx="484.45" cy="890.27" r="1.4"/>
<circle cx="530.23" cy="860.08" r="1.4"/>
<circle cx="530.23" cy="873.80" r="1.4"/>
<circle cx="530.23" cy="876.55" r="1.4"/>
<circle cx="530.23" cy="884.78" r="1.4"/>
<circle cx="530.23" cy="887.53" r="1.4"/>
<circle cx="530.23" cy="890.27" r="1.4"/>
<circle cx="530.23" cy="904.00" r="1.4"/>
<circle cx="530.23" cy="901.25" r="1.4"/>
<circle cx="530.23" cy="898.51" r="1.4"/>
<circle cx="530.23" cy="895.76" r="1.4"/>
<circle cx="530.23" cy="893.02" r="1.4"/>
<circle cx="576.00" cy="843.61" r="1.4"/>
<circle cx="576.00" cy="879.29" r="1.4"/>
<circle cx="576.00" cy="904.00" r="1.4"/>
<circle cx="576.00" cy="901.25" r="1.4"/>
<circle cx="576.00" cy="898.51" r="1.4"/>
<circle cx="576.00" cy="895.76" r="1.4"/>
<circle cx="576.00" cy="893.02" r="1.4"/>
<circle cx="576.00" cy="890.27" r="1.4"/>
<circle cx="621.77" cy="871.06" r="1.4"/>
<circle cx="621.77" cy="882.04" r="1.4"/>
<circle cx="621.77" cy="904.00" r="1.4"/>
<circle cx="621.77" cy="901.25" r="1.4"/>
<circle cx="621.77" cy="898.51" r="1.4"/>
<circle cx="621.77" cy="895.76" r="1.4"/>
<circle cx="621.77" cy="893.02" r="1.4"/>
<circle cx="621.77" cy="890.27" r="1.4"/>
<circle cx="667.55" cy="879.29" r="1.4"/>
<circle cx="667.55" cy="904.00" r="1.4"/>
<circle cx="667.55" cy="901.25" r="1.4"/>
<circle cx="667.55" cy="898.51" r="1.4"/>
<circle cx="667.55" cy="895.76" r="1.4"/>
<circle cx="667.55" cy="893.02" r="1.4"/>
<circle cx="667.55" cy="890.27" r="1.4"/>
<rect x="481.10" y="897.93" width="6.7" height="2.57" fill="#000" fill-opacity="0.5"/>
<rect x="485.68" y="898.03" width="6.7" height="2.53" fill="#000" fill-opacity="0.5"/>
<rect x="490.26" y="898.12" width="6.7" height="2.49" fill="#000" fill-opacity="0.5"/>
<rect x="494.84" y="898.22" width="6.7" height="2.45" fill="#000" fill-opacity="0.5"/>
<rect x="499.41" y="898.31" width="6.7" height="2.41" fill="#000" fill-opacity="0.5"/>
<rect x="503.99" y="898.40" width="6.7" height="2.37" fill="#000" fill-opacity="0.5"/>
<rect x="508.57" y="898.49" width="6.7" height="2.33" fill="#000" fill-opacity="0.5"/>
<rect x="513.15" y="898.58" width="6.7" height="2.29" fill="#000" fill-opacity="0.5"/>
<rect x="517.72" y="898.66" width="6.7" height="2.26" fill="#000" fill-opacity="0.5"/>
<rect x="522.30" y="898.75" width="6.7" height="2.22" fill="#000" fill-opacity="0.5"/>
<rect x="526.88" y="898.83" width="6.7" height="2.19" fill="#000" fill-opacity="0.5"/>
<rect x="531.45" y="898.91" width="6.7" height="2.15" fill="#000" fill-opacity="0.5"/>
<rect x="536.03" y="898.99" width="6.7" height="2.12" fill="#000" fill-opacity="0.5"/>
<rect x="540.61" y="899.07" width="6.7" height="2.08" fill="#000" fill-opacity="0.5"/>
<rect x="545.19" y="899.15" width="6.7" height="2.05" fill="#000" fill-opacity="0.5"/>
<rect x="549.76" y="899.23" width="6.7" height="2.02" fill="#000" fill-opacity="0.5"/>
<rect x="554.34" y="899.30" width="6.7" height="1.99" fill="#000" fill-opacity="0.5"/>
<rect x="558.92" y="899.38" width="6.7" height="1.96" fill="#000" fill-opacity="0.5"/>
<rect x="563.50" y="899.45" width="6.7" height="1.92" fill="#000" fill-opacity="0.5"/>
<rect x="568.07" y="899.52" width="6.7" height="1.89" fill="#000" fill-opacity="0.5"/>
<rect x="572.65" y="899.59" width="6.7" height="1.86" fill="#000" fill-opacity="0.5"/>
<rect x="577.23" y="899.66" width="6.7" height="1.83" fill="#000" fill-opacity="0.5"/>
<rect x="581.80" y="899.73" width="6.7" height="1.81" fill="#000" fill-opacity="0.5"/>
<rect x="586.38" y="899.80" width="6.7" height="1.78" fill="#000" fill-opacity="0.5"/>
<rect x="590.96" y="899.87" width="6.7" height="1.75" fill="#000" fill-opacity="0.5"/>
<rect x="595.54" y="899.93" width="6.7" height="1.72" fill="#000" fill-opacity="0.5"/>
<rect x="600.11" y="900.00" width="6.7" height="1.69" fill="#000" fill-opacity="0.5"/>
<rect x="604.69" y="900.06" width="6.7" height="1.67" fill="#000" fill-opacity="0.5"/>
<rect x="609.27" y="900.12" width="6.7" height="1.64" fill="#000" fill-opacity="0.5"/>
<rect x="613.85" y="900.19" width="6.7" height="1.61" fill="#000" fill-opacity="0.5"/>
<rect x="618.42" y="900.25" width="6.7" height="1.59" fill="#000" fill-opacity="0.5"/>
<rect x="623.00" y="900.31" width="6.7" height="1.56" fill="#000" fill-opacity="0.5"/>
<rect x="627.58" y="900.36" width="6.7" height="1.54" fill="#000" fill-opacity="0.5"/>
<rect x="632.15" y="900.42" width="6.7" height="1.51" fill="#000" fill-opacity="0.5"/>
<rect x="636.73" y="900.48" width="6.7" height="1.49" fill="#000" fill-opacity="0.5"/>
<rect x="641.31" y="900.53" width="6.7" height="1.47" fill="#000" fill-opacity="0.5"/>
<rect x="645.89" y="900.59" width="6.7" height="1.44" fill="#000" fill-opacity="0.5"/>
<rect x="650.46" y="900.64" width="6.7" height="1.42" fill="#000" fill-opacity="0.5"/>
<rect x="655.04" y="900.70" width="6.7" height="1.40" fill="#000" fill-opacity="0.5"/>
<rect x="659.62" y="900.75" width="6.7" height="1.38" fill="#000" fill-opacity="0.5"/>
<rect x="664.20" y="900.80" width="6.7" height="1.35" fill="#000" fill-opacity="0.5"/>
<circle cx="484.45" cy="899.33" r="3.45"/>
<circle cx="489.03" cy="899.41" r="3.45"/>
<circle cx="493.61" cy="899.48" r="3.45"/>
<circle cx="498.19" cy="899.55" r="3.45"/>
<circle cx="502.76" cy="899.62" r="3.45"/>
<circle cx="507.34" cy="899.69" r="3.45"/>
<circle cx="511.92" cy="899.76" r="3.45"/>
<circle cx="516.50" cy="899.83" r="3.45"/>
<circle cx="521.07" cy="899.89" r="3.45"/>
<circle cx="525.65" cy="899.96" r="3.45"/>
<circle cx="530.23" cy="900.02" r="3.45"/>
<circle cx="534.80" cy="900.09" r="3.45"/>
<circle cx="539.38" cy="900.15" r="3.45"/>
<circle cx="543.96" cy="900.21" r="3.45"/>
<circle cx="548.54" cy="900.27" r="3.45"/>
<circle cx="553.11" cy="900.33" r="3.45"/>
<circle cx="557.69" cy="900.39" r="3.45"/>
<circle cx="562.27" cy="900.44" r="3.45"/>
<circle cx="566.85" cy="900.50" r="3.45"/>
<circle cx="571.42" cy="900.56" r="3.45"/>
<circle cx="576.00" cy="900.61" r="3.45"/>
<circle cx="580.58" cy="900.67" r="3.45"/>
<circle cx="585.15" cy="900.72" r="3.45"/>
<circle cx="589.73" cy="900.77" r="3.45"/>
<circle cx="594.31" cy="900.82" r="3.45"/>
<circle cx="598.89" cy="900.87" r="3.45"/>
<circle cx="603.46" cy="900.92" r="3.45"/>
<circle cx="608.04" cy="900.97" r="3.45"/>
<circle cx="612.62" cy="901.02" r="3.45"/>
<circle cx="617.20" cy="901.07" r="3.45"/>
<circle cx="621.77" cy="901.11" r="3.45"/>
<circle cx="626.35" cy="901.16" r="3.45"/>
<circle cx="630.93" cy="901.20" r="3.45"/>
<circle cx="635.50" cy="901.25" r="3.45"/>
<circle cx="640.08" cy="901.29" r="3.45"/>
<circle cx="644.66" cy="901.33" r="3.45"/>
<circle cx="649.24" cy="901.38" r="3.45"/>
<circle cx="653.81" cy="901.42" r="3.45"/>
<circle cx="658.39" cy="901.46" r="3.45"/>
<circle cx="662.97" cy="901.50" r="3.45"/>
<circle cx="667.55" cy="901.54" r="3.45"/>
<polyline fill="none" stroke="#c0c0c0" stroke-width="1.9" points="484.45,899.33 489.03,899.41 493.61,899.48 498.19,899.55 502.76,899.62 507.34,899.69 511.92,899.76 516.50,899.83 521.07,899.89 525.65,899.96 530.23,900.02 534.80,900.09 539.38,900.15 543.96,900.21 548.54,900.27 553.11,900.33 557.69,900.39 562.27,900.44 566.85,900.50 571.42,900.56 576.00,900.61 580.58,900.67 585.15,900.72 589.73,900.77 594.31,900.82 598.89,900.87 603.46,900.92 608.04,900.97 612.62,901.02 617.20,901.07 621.77,901.11 626.35,901.16 630.93,901.20 635.50,901.25 640.08,901.29 644.66,901.33 649.24,901.38 653.81,901.42 658.39,901.46 662.97,901.50 667.55,901.54"/>
<text x="570.7" y="763.9" font-size="17" text-anchor="middle" fill="#000">c</text>
<rect x="475.3" y="745.5" width="201.40000000000003" height="165.79999999999995" fill="none" stroke="#222222" stroke-width="1.4"/>
<line x1="484.45" y1="911.30" x2="484.45" y2="915.50" stroke="#222222" stroke-width="1.4"/>
<text x="484.5" y="929.9" font-size="14.2" text-anchor="middle" fill="#1a1a1a">10</text>
<line x1="530.23" y1="911.30" x2="530.23" y2="915.50" stroke="#222222" stroke-width="1.4"/>
<text x="530.2" y="929.9" font-size="14.2" text-anchor="middle" fill="#1a1a1a">20</text>
<line x1="576.00" y1="911.30" x2="576.00" y2="915.50" stroke="#222222" stroke-width="1.4"/>
<text x="576.0" y="929.9" font-size="14.2" text-anchor="middle" fill="#1a1a1a">30</text>
<line x1="621.77" y1="911.30" x2="621.77" y2="915.50" stroke="#222222" stroke-width="1.4"/>
<text x="621.8" y="929.9" font-size="14.2" text-anchor="middle" fill="#1a1a1a">40</text>
<line x1="667.55" y1="911.30" x2="667.55" y2="915.50" stroke="#222222" stroke-width="1.4"/>
<text x="667.5" y="929.9" font-size="14.2" text-anchor="middle" fill="#1a1a1a">50</text>
<text x="332.6" y="501.0" font-size="17.3" text-anchor="start" fill="#000">Period</text>
<text x="247.5" y="949.7" font-size="17.3" text-anchor="start" fill="#000" textLength="284.2" lengthAdjust="spacingAndGlyphs">Distance from the reforested area, m</text>
<text x="19.6" y="725.0" font-size="17.0" text-anchor="middle" fill="#000" textLength="117.8" lengthAdjust="spacingAndGlyphs" transform="rotate(-90 19.6 725.0)">N weevils / trap</text>
<text x="13.3" y="501.2" font-size="20.2" text-anchor="start" fill="#000">(c)</text>
</svg>
</body></html>
